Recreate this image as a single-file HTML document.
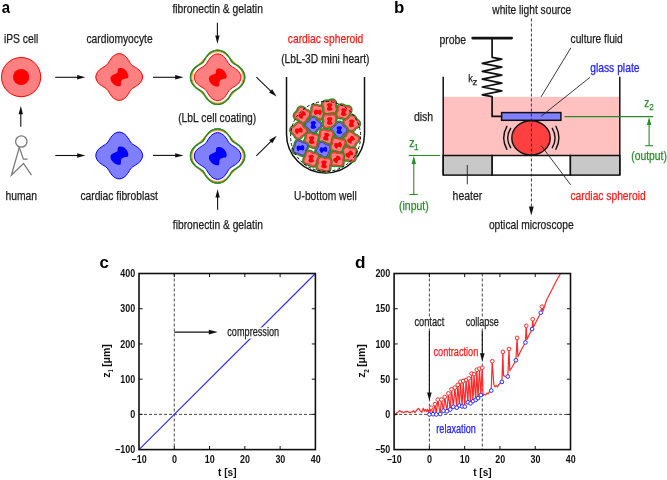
<!DOCTYPE html>
<html><head><meta charset="utf-8"><style>
html,body{margin:0;padding:0;background:#fff;}
svg{display:block;will-change:transform;}
text{font-family:"Liberation Sans",sans-serif;}
</style></head><body>
<svg width="667" height="480" viewBox="0 0 667 480">
<rect width="667" height="480" fill="#fff"/>
<text x="1.8" y="12.6" font-size="16.0" font-weight="bold" fill="#000" textLength="8.3" lengthAdjust="spacingAndGlyphs">a</text>
<text x="3.9" y="42.8" font-size="12.2" fill="#1c1c1c" stroke="#1c1c1c" stroke-width="0.25" textLength="34.4" lengthAdjust="spacingAndGlyphs">iPS cell</text>
<text x="86.4" y="42.9" font-size="12.2" fill="#1c1c1c" stroke="#1c1c1c" stroke-width="0.25" textLength="66.3" lengthAdjust="spacingAndGlyphs">cardiomyocyte</text>
<text x="172.4" y="13.3" font-size="12.2" fill="#1c1c1c" stroke="#1c1c1c" stroke-width="0.25" textLength="90.5" lengthAdjust="spacingAndGlyphs">fibronectin &amp; gelatin</text>
<text x="287.8" y="42.6" font-size="12.2" fill="#ff1a1a" stroke="#ff1a1a" stroke-width="0.25" textLength="75.5" lengthAdjust="spacingAndGlyphs">cardiac spheroid</text>
<text x="281.2" y="62.8" font-size="12.2" fill="#1c1c1c" stroke="#1c1c1c" stroke-width="0.25" textLength="88.3" lengthAdjust="spacingAndGlyphs">(LbL-3D mini heart)</text>
<text x="178.2" y="122.1" font-size="12.2" fill="#1c1c1c" stroke="#1c1c1c" stroke-width="0.25" textLength="78.1" lengthAdjust="spacingAndGlyphs">(LbL cell coating)</text>
<text x="5.5" y="199.7" font-size="12.2" fill="#1c1c1c" stroke="#1c1c1c" stroke-width="0.25" textLength="31.6" lengthAdjust="spacingAndGlyphs">human</text>
<text x="80.4" y="200.0" font-size="12.2" fill="#1c1c1c" stroke="#1c1c1c" stroke-width="0.25" textLength="77.5" lengthAdjust="spacingAndGlyphs">cardiac fibroblast</text>
<text x="172.8" y="229.0" font-size="12.2" fill="#1c1c1c" stroke="#1c1c1c" stroke-width="0.25" textLength="90.1" lengthAdjust="spacingAndGlyphs">fibronectin &amp; gelatin</text>
<text x="294.1" y="199.5" font-size="12.2" fill="#1c1c1c" stroke="#1c1c1c" stroke-width="0.25" textLength="62.6" lengthAdjust="spacingAndGlyphs">U-bottom well</text>
<circle cx="21.1" cy="77.1" r="19.6" fill="#ff8080" stroke="#ff0000" stroke-width="1"/>
<circle cx="21.1" cy="77.0" r="8.1" fill="#ff0000"/>
<line x1="55.20" y1="77.30" x2="78.10" y2="77.30" stroke="#111" stroke-width="1.1"/>
<polygon points="85.40,77.30 77.10,79.50 77.10,75.10" fill="#111"/>
<line x1="55.20" y1="155.50" x2="78.10" y2="155.50" stroke="#111" stroke-width="1.1"/>
<polygon points="85.40,155.50 77.10,157.70 77.10,153.30" fill="#111"/>
<line x1="153.00" y1="77.30" x2="176.20" y2="77.30" stroke="#111" stroke-width="1.1"/>
<polygon points="183.50,77.30 175.20,79.50 175.20,75.10" fill="#111"/>
<line x1="153.00" y1="155.40" x2="176.20" y2="155.40" stroke="#111" stroke-width="1.1"/>
<polygon points="183.50,155.40 175.20,157.60 175.20,153.20" fill="#111"/>
<line x1="217.40" y1="22.80" x2="217.40" y2="36.50" stroke="#111" stroke-width="1.1"/>
<polygon points="217.40,43.80 215.20,35.50 219.60,35.50" fill="#111"/>
<line x1="217.60" y1="209.70" x2="217.60" y2="196.50" stroke="#111" stroke-width="1.1"/>
<polygon points="217.60,189.20 219.80,197.50 215.40,197.50" fill="#111"/>
<line x1="20.80" y1="126.70" x2="20.80" y2="113.30" stroke="#111" stroke-width="1.1"/>
<polygon points="20.80,106.00 23.00,114.30 18.60,114.30" fill="#111"/>
<line x1="256.40" y1="77.20" x2="271.33" y2="91.54" stroke="#111" stroke-width="1.1"/>
<polygon points="276.60,96.60 269.09,92.44 272.14,89.26" fill="#111"/>
<line x1="256.30" y1="155.80" x2="271.49" y2="140.91" stroke="#111" stroke-width="1.1"/>
<polygon points="276.70,135.80 272.31,143.18 269.23,140.04" fill="#111"/>
<circle cx="21.3" cy="141.5" r="5.7" fill="none" stroke="#7a7a7a" stroke-width="1.3"/>
<polyline points="19.3,147.4 11.4,175.2 23.5,163.5 31.5,175.2" fill="none" stroke="#7a7a7a" stroke-width="1.3" stroke-linejoin="miter"/>
<polyline points="19.3,147.4 23.4,159.2 27.6,159.2" fill="none" stroke="#7a7a7a" stroke-width="1.3"/>
<path d="M119.2,53.6 C119.9,53.6 120.6,53.7 121.2,53.9 C121.9,54.1 122.5,54.4 123.1,54.7 C123.7,55.0 124.3,55.4 124.9,55.9 C125.4,56.3 125.9,56.8 126.4,57.3 C126.8,57.9 127.2,58.4 127.6,59.0 C128.0,59.5 128.3,60.1 128.7,60.6 C129.0,61.1 129.3,61.7 129.6,62.1 C129.9,62.6 130.2,63.1 130.5,63.5 C130.8,63.9 131.2,64.3 131.5,64.7 C131.9,65.0 132.3,65.4 132.7,65.7 C133.1,66.0 133.6,66.3 134.1,66.6 C134.5,66.9 135.1,67.2 135.6,67.5 C136.1,67.9 136.7,68.2 137.2,68.6 C137.8,69.0 138.3,69.4 138.9,69.8 C139.4,70.3 139.9,70.8 140.3,71.3 C140.8,71.9 141.2,72.5 141.5,73.1 C141.8,73.7 142.1,74.3 142.3,75.0 C142.5,75.6 142.6,76.3 142.6,77.0 C142.6,77.7 142.5,78.4 142.3,79.0 C142.1,79.7 141.8,80.3 141.5,80.9 C141.2,81.5 140.8,82.1 140.3,82.7 C139.9,83.2 139.4,83.7 138.9,84.2 C138.3,84.6 137.8,85.0 137.2,85.4 C136.7,85.8 136.1,86.1 135.6,86.5 C135.1,86.8 134.5,87.1 134.1,87.4 C133.6,87.7 133.1,88.0 132.7,88.3 C132.3,88.6 131.9,89.0 131.5,89.3 C131.2,89.7 130.8,90.1 130.5,90.5 C130.2,90.9 129.9,91.4 129.6,91.9 C129.3,92.3 129.0,92.9 128.7,93.4 C128.3,93.9 128.0,94.5 127.6,95.0 C127.2,95.6 126.8,96.1 126.4,96.7 C125.9,97.2 125.4,97.7 124.9,98.1 C124.3,98.6 123.7,99.0 123.1,99.3 C122.5,99.6 121.9,99.9 121.2,100.1 C120.6,100.3 119.9,100.4 119.2,100.4 C118.5,100.4 117.8,100.3 117.2,100.1 C116.5,99.9 115.9,99.6 115.3,99.3 C114.7,99.0 114.1,98.6 113.5,98.1 C113.0,97.7 112.5,97.2 112.0,96.7 C111.6,96.1 111.2,95.6 110.8,95.0 C110.4,94.5 110.1,93.9 109.7,93.4 C109.4,92.9 109.1,92.3 108.8,91.9 C108.5,91.4 108.2,90.9 107.9,90.5 C107.6,90.1 107.2,89.7 106.9,89.3 C106.5,89.0 106.1,88.6 105.7,88.3 C105.3,88.0 104.8,87.7 104.3,87.4 C103.9,87.1 103.3,86.8 102.8,86.5 C102.3,86.1 101.7,85.8 101.2,85.4 C100.6,85.0 100.1,84.6 99.5,84.2 C99.0,83.7 98.5,83.2 98.1,82.7 C97.6,82.1 97.2,81.5 96.9,80.9 C96.6,80.3 96.3,79.7 96.1,79.0 C95.9,78.4 95.8,77.7 95.8,77.0 C95.8,76.3 95.9,75.6 96.1,75.0 C96.3,74.3 96.6,73.7 96.9,73.1 C97.2,72.5 97.6,71.9 98.1,71.3 C98.5,70.8 99.0,70.3 99.5,69.8 C100.1,69.4 100.6,69.0 101.2,68.6 C101.7,68.2 102.3,67.9 102.8,67.5 C103.3,67.2 103.9,66.9 104.3,66.6 C104.8,66.3 105.3,66.0 105.7,65.7 C106.1,65.4 106.5,65.0 106.9,64.7 C107.2,64.3 107.6,63.9 107.9,63.5 C108.2,63.1 108.5,62.6 108.8,62.1 C109.1,61.7 109.4,61.1 109.7,60.6 C110.1,60.1 110.4,59.5 110.8,59.0 C111.2,58.4 111.6,57.9 112.0,57.3 C112.5,56.8 113.0,56.3 113.5,55.9 C114.1,55.4 114.7,55.0 115.3,54.7 C115.9,54.4 116.5,54.1 117.2,53.9 C117.8,53.7 118.5,53.6 119.2,53.6Z" fill="#ff8080" stroke="#ff0000" stroke-width="1.0"/>
<path d="M118.0,69.1 C118.4,68.7 119.1,68.1 120.2,68.1 C121.2,68.1 122.9,68.4 124.1,69.1 C125.3,69.9 126.5,71.4 127.2,72.6 C127.9,73.7 128.3,75.0 128.3,75.9 C128.4,76.9 128.1,77.7 127.5,78.2 C126.8,78.6 125.6,78.4 124.7,78.7 C123.7,79.0 122.5,79.3 121.9,79.9 C121.3,80.4 121.2,81.2 121.0,82.1 C120.8,83.0 121.1,84.7 120.7,85.4 C120.4,86.2 120.0,86.4 119.0,86.3 C118.0,86.2 115.8,85.6 114.6,84.9 C113.4,84.2 112.4,83.2 111.7,82.1 C111.0,81.0 110.5,79.2 110.5,78.2 C110.5,77.1 111.0,76.3 111.7,75.7 C112.4,75.0 113.7,74.6 114.6,74.2 C115.5,73.8 116.6,73.6 117.1,73.1 C117.6,72.5 117.5,71.5 117.7,70.9 C117.8,70.2 117.5,69.6 118.0,69.1Z" fill="#ff0000"/>
<path d="M119.2,132.1 C119.9,132.1 120.6,132.2 121.2,132.4 C121.9,132.6 122.5,132.9 123.1,133.2 C123.7,133.5 124.3,133.9 124.9,134.4 C125.4,134.8 125.9,135.3 126.4,135.8 C126.8,136.4 127.2,136.9 127.6,137.5 C128.0,138.0 128.3,138.6 128.7,139.1 C129.0,139.6 129.3,140.2 129.6,140.6 C129.9,141.1 130.2,141.6 130.5,142.0 C130.8,142.4 131.2,142.8 131.5,143.2 C131.9,143.5 132.3,143.9 132.7,144.2 C133.1,144.5 133.6,144.8 134.1,145.1 C134.5,145.4 135.1,145.7 135.6,146.0 C136.1,146.4 136.7,146.7 137.2,147.1 C137.8,147.5 138.3,147.9 138.9,148.3 C139.4,148.8 139.9,149.3 140.3,149.8 C140.8,150.4 141.2,151.0 141.5,151.6 C141.8,152.2 142.1,152.8 142.3,153.5 C142.5,154.1 142.6,154.8 142.6,155.5 C142.6,156.2 142.5,156.9 142.3,157.5 C142.1,158.2 141.8,158.8 141.5,159.4 C141.2,160.0 140.8,160.6 140.3,161.2 C139.9,161.7 139.4,162.2 138.9,162.7 C138.3,163.1 137.8,163.5 137.2,163.9 C136.7,164.3 136.1,164.6 135.6,165.0 C135.1,165.3 134.5,165.6 134.1,165.9 C133.6,166.2 133.1,166.5 132.7,166.8 C132.3,167.1 131.9,167.5 131.5,167.8 C131.2,168.2 130.8,168.6 130.5,169.0 C130.2,169.4 129.9,169.9 129.6,170.4 C129.3,170.8 129.0,171.4 128.7,171.9 C128.3,172.4 128.0,173.0 127.6,173.5 C127.2,174.1 126.8,174.6 126.4,175.2 C125.9,175.7 125.4,176.2 124.9,176.6 C124.3,177.1 123.7,177.5 123.1,177.8 C122.5,178.1 121.9,178.4 121.2,178.6 C120.6,178.8 119.9,178.9 119.2,178.9 C118.5,178.9 117.8,178.8 117.2,178.6 C116.5,178.4 115.9,178.1 115.3,177.8 C114.7,177.5 114.1,177.1 113.5,176.6 C113.0,176.2 112.5,175.7 112.0,175.2 C111.6,174.6 111.2,174.1 110.8,173.5 C110.4,173.0 110.1,172.4 109.7,171.9 C109.4,171.4 109.1,170.8 108.8,170.4 C108.5,169.9 108.2,169.4 107.9,169.0 C107.6,168.6 107.2,168.2 106.9,167.8 C106.5,167.5 106.1,167.1 105.7,166.8 C105.3,166.5 104.8,166.2 104.3,165.9 C103.9,165.6 103.3,165.3 102.8,165.0 C102.3,164.6 101.7,164.3 101.2,163.9 C100.6,163.5 100.1,163.1 99.5,162.7 C99.0,162.2 98.5,161.7 98.1,161.2 C97.6,160.6 97.2,160.0 96.9,159.4 C96.6,158.8 96.3,158.2 96.1,157.5 C95.9,156.9 95.8,156.2 95.8,155.5 C95.8,154.8 95.9,154.1 96.1,153.5 C96.3,152.8 96.6,152.2 96.9,151.6 C97.2,151.0 97.6,150.4 98.1,149.8 C98.5,149.3 99.0,148.8 99.5,148.3 C100.1,147.9 100.6,147.5 101.2,147.1 C101.7,146.7 102.3,146.4 102.8,146.0 C103.3,145.7 103.9,145.4 104.3,145.1 C104.8,144.8 105.3,144.5 105.7,144.2 C106.1,143.9 106.5,143.5 106.9,143.2 C107.2,142.8 107.6,142.4 107.9,142.0 C108.2,141.6 108.5,141.1 108.8,140.6 C109.1,140.2 109.4,139.6 109.7,139.1 C110.1,138.6 110.4,138.0 110.8,137.5 C111.2,136.9 111.6,136.4 112.0,135.8 C112.5,135.3 113.0,134.8 113.5,134.4 C114.1,133.9 114.7,133.5 115.3,133.2 C115.9,132.9 116.5,132.6 117.2,132.4 C117.8,132.2 118.5,132.1 119.2,132.1Z" fill="#8080ff" stroke="#0000ff" stroke-width="1.0"/>
<path d="M118.0,147.6 C118.4,147.2 119.1,146.6 120.2,146.6 C121.2,146.6 122.9,146.9 124.1,147.6 C125.3,148.4 126.5,149.9 127.2,151.1 C127.9,152.2 128.3,153.5 128.3,154.4 C128.4,155.4 128.1,156.2 127.5,156.7 C126.8,157.1 125.6,156.9 124.7,157.2 C123.7,157.5 122.5,157.8 121.9,158.4 C121.3,158.9 121.2,159.7 121.0,160.6 C120.8,161.5 121.1,163.2 120.7,163.9 C120.4,164.7 120.0,164.9 119.0,164.8 C118.0,164.7 115.8,164.1 114.6,163.4 C113.4,162.7 112.4,161.7 111.7,160.6 C111.0,159.5 110.5,157.7 110.5,156.7 C110.5,155.6 111.0,154.8 111.7,154.2 C112.4,153.5 113.7,153.1 114.6,152.7 C115.5,152.3 116.6,152.1 117.1,151.6 C117.6,151.0 117.5,150.0 117.7,149.4 C117.8,148.7 117.5,148.1 118.0,147.6Z" fill="#0000ff"/>
<path d="M217.6,50.2 C218.6,50.2 219.6,50.4 220.6,50.6 C221.5,50.9 222.4,51.3 223.3,51.7 C224.1,52.2 224.9,52.7 225.6,53.3 C226.3,53.9 227.0,54.6 227.5,55.2 C228.1,55.8 228.6,56.5 229.0,57.1 C229.5,57.8 229.8,58.4 230.2,58.9 C230.5,59.5 230.8,60.0 231.1,60.4 C231.4,60.9 231.6,61.2 231.9,61.6 C232.1,61.9 232.3,62.1 232.5,62.4 C232.8,62.6 233.0,62.8 233.3,63.0 C233.7,63.3 234.0,63.5 234.5,63.8 C234.9,64.1 235.4,64.4 236.0,64.7 C236.5,65.1 237.1,65.4 237.8,65.9 C238.4,66.3 239.1,66.8 239.7,67.4 C240.3,67.9 241.0,68.6 241.6,69.3 C242.2,70.0 242.7,70.8 243.2,71.6 C243.6,72.5 244.0,73.4 244.3,74.3 C244.5,75.3 244.7,76.3 244.7,77.3 C244.7,78.3 244.5,79.3 244.3,80.3 C244.0,81.2 243.6,82.1 243.2,83.0 C242.7,83.8 242.2,84.6 241.6,85.3 C241.0,86.0 240.3,86.7 239.7,87.2 C239.1,87.8 238.4,88.3 237.8,88.7 C237.1,89.2 236.5,89.5 236.0,89.9 C235.4,90.2 234.9,90.5 234.5,90.8 C234.0,91.1 233.7,91.3 233.3,91.6 C233.0,91.8 232.8,92.0 232.5,92.2 C232.3,92.5 232.1,92.7 231.9,93.0 C231.6,93.4 231.4,93.7 231.1,94.2 C230.8,94.6 230.5,95.1 230.2,95.7 C229.8,96.2 229.5,96.8 229.0,97.5 C228.6,98.1 228.1,98.8 227.5,99.4 C227.0,100.0 226.3,100.7 225.6,101.3 C224.9,101.9 224.1,102.4 223.3,102.9 C222.4,103.3 221.5,103.7 220.6,104.0 C219.6,104.2 218.6,104.4 217.6,104.4 C216.6,104.4 215.6,104.2 214.6,104.0 C213.7,103.7 212.8,103.3 211.9,102.9 C211.1,102.4 210.3,101.9 209.6,101.3 C208.9,100.7 208.2,100.0 207.7,99.4 C207.1,98.8 206.6,98.1 206.2,97.5 C205.7,96.8 205.4,96.2 205.0,95.7 C204.7,95.1 204.4,94.6 204.1,94.2 C203.8,93.7 203.6,93.4 203.3,93.0 C203.1,92.7 202.9,92.5 202.7,92.2 C202.4,92.0 202.2,91.8 201.9,91.6 C201.5,91.3 201.2,91.1 200.7,90.8 C200.3,90.5 199.8,90.2 199.2,89.9 C198.7,89.5 198.1,89.2 197.4,88.7 C196.8,88.3 196.1,87.8 195.5,87.2 C194.9,86.7 194.2,86.0 193.6,85.3 C193.0,84.6 192.5,83.8 192.0,83.0 C191.6,82.1 191.2,81.2 190.9,80.3 C190.7,79.3 190.5,78.3 190.5,77.3 C190.5,76.3 190.7,75.3 190.9,74.3 C191.2,73.4 191.6,72.5 192.0,71.6 C192.5,70.8 193.0,70.0 193.6,69.3 C194.2,68.6 194.9,67.9 195.5,67.4 C196.1,66.8 196.8,66.3 197.4,65.9 C198.1,65.4 198.7,65.1 199.2,64.7 C199.8,64.4 200.3,64.1 200.7,63.8 C201.2,63.5 201.5,63.3 201.9,63.0 C202.2,62.8 202.4,62.6 202.7,62.4 C202.9,62.1 203.1,61.9 203.3,61.6 C203.6,61.2 203.8,60.9 204.1,60.4 C204.4,60.0 204.7,59.5 205.0,58.9 C205.4,58.4 205.7,57.8 206.2,57.1 C206.6,56.5 207.1,55.8 207.7,55.2 C208.2,54.6 208.9,53.9 209.6,53.3 C210.3,52.7 211.1,52.2 211.9,51.7 C212.8,51.3 213.7,50.9 214.6,50.6 C215.6,50.4 216.6,50.2 217.6,50.2Z" fill="#fff" stroke="#2a8a2a" stroke-width="1.4"/>
<path d="M217.6,51.6 C218.5,51.6 219.3,51.7 220.2,51.9 C221.0,52.1 221.8,52.3 222.6,52.6 C223.4,52.9 224.1,53.3 224.8,53.7 C225.5,54.1 226.2,54.6 226.8,55.1 C227.4,55.5 227.9,56.0 228.4,56.5 C229.0,57.0 229.4,57.5 229.9,58.0 C230.3,58.4 230.7,58.9 231.1,59.3 C231.5,59.7 231.8,60.1 232.2,60.5 C232.6,60.9 232.9,61.3 233.3,61.6 C233.6,62.0 234.0,62.3 234.4,62.7 C234.8,63.1 235.2,63.4 235.6,63.8 C236.0,64.2 236.5,64.6 236.9,65.0 C237.4,65.5 237.9,65.9 238.4,66.5 C238.9,67.0 239.4,67.5 239.8,68.1 C240.3,68.7 240.8,69.4 241.2,70.1 C241.6,70.8 242.0,71.5 242.3,72.3 C242.6,73.1 242.8,73.9 243.0,74.7 C243.2,75.6 243.3,76.4 243.3,77.3 C243.3,78.2 243.2,79.0 243.0,79.9 C242.8,80.7 242.6,81.5 242.3,82.3 C242.0,83.1 241.6,83.8 241.2,84.5 C240.8,85.2 240.3,85.9 239.8,86.5 C239.4,87.1 238.9,87.6 238.4,88.1 C237.9,88.7 237.4,89.1 236.9,89.6 C236.5,90.0 236.0,90.4 235.6,90.8 C235.2,91.2 234.8,91.5 234.4,91.9 C234.0,92.3 233.6,92.6 233.3,93.0 C232.9,93.3 232.6,93.7 232.2,94.1 C231.8,94.5 231.5,94.9 231.1,95.3 C230.7,95.7 230.3,96.2 229.9,96.6 C229.4,97.1 229.0,97.6 228.4,98.1 C227.9,98.6 227.4,99.1 226.8,99.5 C226.2,100.0 225.5,100.5 224.8,100.9 C224.1,101.3 223.4,101.7 222.6,102.0 C221.8,102.3 221.0,102.5 220.2,102.7 C219.3,102.9 218.5,103.0 217.6,103.0 C216.7,103.0 215.9,102.9 215.0,102.7 C214.2,102.5 213.4,102.3 212.6,102.0 C211.8,101.7 211.1,101.3 210.4,100.9 C209.7,100.5 209.0,100.0 208.4,99.5 C207.8,99.1 207.3,98.6 206.8,98.1 C206.2,97.6 205.8,97.1 205.3,96.6 C204.9,96.2 204.5,95.7 204.1,95.3 C203.7,94.9 203.4,94.5 203.0,94.1 C202.6,93.7 202.3,93.3 201.9,93.0 C201.6,92.6 201.2,92.3 200.8,91.9 C200.4,91.5 200.0,91.2 199.6,90.8 C199.2,90.4 198.7,90.0 198.3,89.6 C197.8,89.1 197.3,88.7 196.8,88.1 C196.3,87.6 195.8,87.1 195.4,86.5 C194.9,85.9 194.4,85.2 194.0,84.5 C193.6,83.8 193.2,83.1 192.9,82.3 C192.6,81.5 192.4,80.7 192.2,79.9 C192.0,79.0 191.9,78.2 191.9,77.3 C191.9,76.4 192.0,75.6 192.2,74.7 C192.4,73.9 192.6,73.1 192.9,72.3 C193.2,71.5 193.6,70.8 194.0,70.1 C194.4,69.4 194.9,68.7 195.4,68.1 C195.8,67.5 196.3,67.0 196.8,66.5 C197.3,65.9 197.8,65.5 198.3,65.0 C198.7,64.6 199.2,64.2 199.6,63.8 C200.0,63.4 200.4,63.1 200.8,62.7 C201.2,62.3 201.6,62.0 201.9,61.6 C202.3,61.3 202.6,60.9 203.0,60.5 C203.4,60.1 203.7,59.7 204.1,59.3 C204.5,58.9 204.9,58.4 205.3,58.0 C205.8,57.5 206.2,57.0 206.8,56.5 C207.3,56.0 207.8,55.5 208.4,55.1 C209.0,54.6 209.7,54.1 210.4,53.7 C211.1,53.3 211.8,52.9 212.6,52.6 C213.4,52.3 214.2,52.1 215.0,51.9 C215.9,51.7 216.7,51.6 217.6,51.6Z" fill="none" stroke="#ff9020" stroke-width="1.1"/>
<path d="M217.6,50.2 C218.6,50.2 219.6,50.4 220.6,50.6 C221.5,50.9 222.4,51.3 223.3,51.7 C224.1,52.2 224.9,52.7 225.6,53.3 C226.3,53.9 227.0,54.6 227.5,55.2 C228.1,55.8 228.6,56.5 229.0,57.1 C229.5,57.8 229.8,58.4 230.2,58.9 C230.5,59.5 230.8,60.0 231.1,60.4 C231.4,60.9 231.6,61.2 231.9,61.6 C232.1,61.9 232.3,62.1 232.5,62.4 C232.8,62.6 233.0,62.8 233.3,63.0 C233.7,63.3 234.0,63.5 234.5,63.8 C234.9,64.1 235.4,64.4 236.0,64.7 C236.5,65.1 237.1,65.4 237.8,65.9 C238.4,66.3 239.1,66.8 239.7,67.4 C240.3,67.9 241.0,68.6 241.6,69.3 C242.2,70.0 242.7,70.8 243.2,71.6 C243.6,72.5 244.0,73.4 244.3,74.3 C244.5,75.3 244.7,76.3 244.7,77.3 C244.7,78.3 244.5,79.3 244.3,80.3 C244.0,81.2 243.6,82.1 243.2,83.0 C242.7,83.8 242.2,84.6 241.6,85.3 C241.0,86.0 240.3,86.7 239.7,87.2 C239.1,87.8 238.4,88.3 237.8,88.7 C237.1,89.2 236.5,89.5 236.0,89.9 C235.4,90.2 234.9,90.5 234.5,90.8 C234.0,91.1 233.7,91.3 233.3,91.6 C233.0,91.8 232.8,92.0 232.5,92.2 C232.3,92.5 232.1,92.7 231.9,93.0 C231.6,93.4 231.4,93.7 231.1,94.2 C230.8,94.6 230.5,95.1 230.2,95.7 C229.8,96.2 229.5,96.8 229.0,97.5 C228.6,98.1 228.1,98.8 227.5,99.4 C227.0,100.0 226.3,100.7 225.6,101.3 C224.9,101.9 224.1,102.4 223.3,102.9 C222.4,103.3 221.5,103.7 220.6,104.0 C219.6,104.2 218.6,104.4 217.6,104.4 C216.6,104.4 215.6,104.2 214.6,104.0 C213.7,103.7 212.8,103.3 211.9,102.9 C211.1,102.4 210.3,101.9 209.6,101.3 C208.9,100.7 208.2,100.0 207.7,99.4 C207.1,98.8 206.6,98.1 206.2,97.5 C205.7,96.8 205.4,96.2 205.0,95.7 C204.7,95.1 204.4,94.6 204.1,94.2 C203.8,93.7 203.6,93.4 203.3,93.0 C203.1,92.7 202.9,92.5 202.7,92.2 C202.4,92.0 202.2,91.8 201.9,91.6 C201.5,91.3 201.2,91.1 200.7,90.8 C200.3,90.5 199.8,90.2 199.2,89.9 C198.7,89.5 198.1,89.2 197.4,88.7 C196.8,88.3 196.1,87.8 195.5,87.2 C194.9,86.7 194.2,86.0 193.6,85.3 C193.0,84.6 192.5,83.8 192.0,83.0 C191.6,82.1 191.2,81.2 190.9,80.3 C190.7,79.3 190.5,78.3 190.5,77.3 C190.5,76.3 190.7,75.3 190.9,74.3 C191.2,73.4 191.6,72.5 192.0,71.6 C192.5,70.8 193.0,70.0 193.6,69.3 C194.2,68.6 194.9,67.9 195.5,67.4 C196.1,66.8 196.8,66.3 197.4,65.9 C198.1,65.4 198.7,65.1 199.2,64.7 C199.8,64.4 200.3,64.1 200.7,63.8 C201.2,63.5 201.5,63.3 201.9,63.0 C202.2,62.8 202.4,62.6 202.7,62.4 C202.9,62.1 203.1,61.9 203.3,61.6 C203.6,61.2 203.8,60.9 204.1,60.4 C204.4,60.0 204.7,59.5 205.0,58.9 C205.4,58.4 205.7,57.8 206.2,57.1 C206.6,56.5 207.1,55.8 207.7,55.2 C208.2,54.6 208.9,53.9 209.6,53.3 C210.3,52.7 211.1,52.2 211.9,51.7 C212.8,51.3 213.7,50.9 214.6,50.6 C215.6,50.4 216.6,50.2 217.6,50.2Z" fill="none" stroke="#2a8a2a" stroke-width="1.4" stroke-dasharray="0"/>
<path d="M217.6,53.9 C218.3,53.9 219.0,54.0 219.6,54.2 C220.3,54.4 220.9,54.7 221.5,55.0 C222.1,55.3 222.7,55.7 223.3,56.2 C223.8,56.6 224.3,57.1 224.8,57.6 C225.2,58.2 225.6,58.7 226.0,59.3 C226.4,59.8 226.7,60.4 227.1,60.9 C227.4,61.4 227.7,62.0 228.0,62.4 C228.3,62.9 228.6,63.4 228.9,63.8 C229.2,64.2 229.6,64.6 229.9,65.0 C230.3,65.3 230.7,65.7 231.1,66.0 C231.5,66.3 232.0,66.6 232.5,66.9 C232.9,67.2 233.5,67.5 234.0,67.8 C234.5,68.2 235.1,68.5 235.6,68.9 C236.2,69.3 236.7,69.7 237.3,70.1 C237.8,70.6 238.3,71.1 238.7,71.6 C239.2,72.2 239.6,72.8 239.9,73.4 C240.2,74.0 240.5,74.6 240.7,75.3 C240.9,75.9 241.0,76.6 241.0,77.3 C241.0,78.0 240.9,78.7 240.7,79.3 C240.5,80.0 240.2,80.6 239.9,81.2 C239.6,81.8 239.2,82.4 238.7,83.0 C238.3,83.5 237.8,84.0 237.3,84.5 C236.7,84.9 236.2,85.3 235.6,85.7 C235.1,86.1 234.5,86.4 234.0,86.8 C233.5,87.1 232.9,87.4 232.5,87.7 C232.0,88.0 231.5,88.3 231.1,88.6 C230.7,88.9 230.3,89.3 229.9,89.6 C229.6,90.0 229.2,90.4 228.9,90.8 C228.6,91.2 228.3,91.7 228.0,92.2 C227.7,92.6 227.4,93.2 227.1,93.7 C226.7,94.2 226.4,94.8 226.0,95.3 C225.6,95.9 225.2,96.4 224.8,97.0 C224.3,97.5 223.8,98.0 223.3,98.4 C222.7,98.9 222.1,99.3 221.5,99.6 C220.9,99.9 220.3,100.2 219.6,100.4 C219.0,100.6 218.3,100.7 217.6,100.7 C216.9,100.7 216.2,100.6 215.6,100.4 C214.9,100.2 214.3,99.9 213.7,99.6 C213.1,99.3 212.5,98.9 211.9,98.4 C211.4,98.0 210.9,97.5 210.4,97.0 C210.0,96.4 209.6,95.9 209.2,95.3 C208.8,94.8 208.5,94.2 208.1,93.7 C207.8,93.2 207.5,92.6 207.2,92.2 C206.9,91.7 206.6,91.2 206.3,90.8 C206.0,90.4 205.6,90.0 205.3,89.6 C204.9,89.3 204.5,88.9 204.1,88.6 C203.7,88.3 203.2,88.0 202.7,87.7 C202.3,87.4 201.7,87.1 201.2,86.8 C200.7,86.4 200.1,86.1 199.6,85.7 C199.0,85.3 198.5,84.9 197.9,84.5 C197.4,84.0 196.9,83.5 196.5,83.0 C196.0,82.4 195.6,81.8 195.3,81.2 C195.0,80.6 194.7,80.0 194.5,79.3 C194.3,78.7 194.2,78.0 194.2,77.3 C194.2,76.6 194.3,75.9 194.5,75.3 C194.7,74.6 195.0,74.0 195.3,73.4 C195.6,72.8 196.0,72.2 196.5,71.6 C196.9,71.1 197.4,70.6 197.9,70.1 C198.5,69.7 199.0,69.3 199.6,68.9 C200.1,68.5 200.7,68.2 201.2,67.8 C201.7,67.5 202.3,67.2 202.7,66.9 C203.2,66.6 203.7,66.3 204.1,66.0 C204.5,65.7 204.9,65.3 205.3,65.0 C205.6,64.6 206.0,64.2 206.3,63.8 C206.6,63.4 206.9,62.9 207.2,62.4 C207.5,62.0 207.8,61.4 208.1,60.9 C208.5,60.4 208.8,59.8 209.2,59.3 C209.6,58.7 210.0,58.2 210.4,57.6 C210.9,57.1 211.4,56.6 211.9,56.2 C212.5,55.7 213.1,55.3 213.7,55.0 C214.3,54.7 214.9,54.4 215.6,54.2 C216.2,54.0 216.9,53.9 217.6,53.9Z" fill="#ff8080" stroke="#ff0000" stroke-width="1.0"/>
<path d="M216.4,69.4 C216.8,69.0 217.5,68.4 218.6,68.4 C219.6,68.4 221.3,68.7 222.5,69.4 C223.7,70.2 224.9,71.7 225.6,72.9 C226.3,74.0 226.7,75.3 226.7,76.2 C226.8,77.2 226.5,78.0 225.9,78.5 C225.2,78.9 224.0,78.7 223.1,79.0 C222.1,79.3 220.9,79.6 220.3,80.2 C219.7,80.7 219.6,81.5 219.4,82.4 C219.2,83.3 219.5,85.0 219.1,85.7 C218.8,86.5 218.4,86.7 217.4,86.6 C216.4,86.5 214.2,85.9 213.0,85.2 C211.8,84.5 210.8,83.5 210.1,82.4 C209.4,81.3 208.9,79.5 208.9,78.5 C208.9,77.4 209.4,76.6 210.1,76.0 C210.8,75.3 212.1,74.9 213.0,74.5 C213.9,74.1 215.0,73.9 215.5,73.4 C216.0,72.8 215.9,71.8 216.1,71.2 C216.2,70.5 215.9,69.9 216.4,69.4Z" fill="#ff0000"/>
<path d="M217.6,128.9 C218.6,128.9 219.6,129.1 220.6,129.3 C221.5,129.6 222.4,130.0 223.3,130.4 C224.1,130.9 224.9,131.4 225.6,132.0 C226.3,132.6 227.0,133.3 227.5,133.9 C228.1,134.5 228.6,135.2 229.0,135.8 C229.5,136.5 229.8,137.1 230.2,137.6 C230.5,138.2 230.8,138.7 231.1,139.1 C231.4,139.6 231.6,139.9 231.9,140.3 C232.1,140.6 232.3,140.8 232.5,141.1 C232.8,141.3 233.0,141.5 233.3,141.7 C233.7,142.0 234.0,142.2 234.5,142.5 C234.9,142.8 235.4,143.1 236.0,143.4 C236.5,143.8 237.1,144.1 237.8,144.6 C238.4,145.0 239.1,145.5 239.7,146.1 C240.3,146.6 241.0,147.3 241.6,148.0 C242.2,148.7 242.7,149.5 243.2,150.3 C243.6,151.2 244.0,152.1 244.3,153.0 C244.5,154.0 244.7,155.0 244.7,156.0 C244.7,157.0 244.5,158.0 244.3,159.0 C244.0,159.9 243.6,160.8 243.2,161.7 C242.7,162.5 242.2,163.3 241.6,164.0 C241.0,164.7 240.3,165.4 239.7,165.9 C239.1,166.5 238.4,167.0 237.8,167.4 C237.1,167.9 236.5,168.2 236.0,168.6 C235.4,168.9 234.9,169.2 234.5,169.5 C234.0,169.8 233.7,170.0 233.3,170.3 C233.0,170.5 232.8,170.7 232.5,170.9 C232.3,171.2 232.1,171.4 231.9,171.7 C231.6,172.1 231.4,172.4 231.1,172.9 C230.8,173.3 230.5,173.8 230.2,174.4 C229.8,174.9 229.5,175.5 229.0,176.2 C228.6,176.8 228.1,177.5 227.5,178.1 C227.0,178.7 226.3,179.4 225.6,180.0 C224.9,180.6 224.1,181.1 223.3,181.6 C222.4,182.0 221.5,182.4 220.6,182.7 C219.6,182.9 218.6,183.1 217.6,183.1 C216.6,183.1 215.6,182.9 214.6,182.7 C213.7,182.4 212.8,182.0 211.9,181.6 C211.1,181.1 210.3,180.6 209.6,180.0 C208.9,179.4 208.2,178.7 207.7,178.1 C207.1,177.5 206.6,176.8 206.2,176.2 C205.7,175.5 205.4,174.9 205.0,174.4 C204.7,173.8 204.4,173.3 204.1,172.9 C203.8,172.4 203.6,172.1 203.3,171.7 C203.1,171.4 202.9,171.2 202.7,170.9 C202.4,170.7 202.2,170.5 201.9,170.3 C201.5,170.0 201.2,169.8 200.7,169.5 C200.3,169.2 199.8,168.9 199.2,168.6 C198.7,168.2 198.1,167.9 197.4,167.4 C196.8,167.0 196.1,166.5 195.5,165.9 C194.9,165.4 194.2,164.7 193.6,164.0 C193.0,163.3 192.5,162.5 192.0,161.7 C191.6,160.8 191.2,159.9 190.9,159.0 C190.7,158.0 190.5,157.0 190.5,156.0 C190.5,155.0 190.7,154.0 190.9,153.0 C191.2,152.1 191.6,151.2 192.0,150.3 C192.5,149.5 193.0,148.7 193.6,148.0 C194.2,147.3 194.9,146.6 195.5,146.1 C196.1,145.5 196.8,145.0 197.4,144.6 C198.1,144.1 198.7,143.8 199.2,143.4 C199.8,143.1 200.3,142.8 200.7,142.5 C201.2,142.2 201.5,142.0 201.9,141.7 C202.2,141.5 202.4,141.3 202.7,141.1 C202.9,140.8 203.1,140.6 203.3,140.3 C203.6,139.9 203.8,139.6 204.1,139.1 C204.4,138.7 204.7,138.2 205.0,137.6 C205.4,137.1 205.7,136.5 206.2,135.8 C206.6,135.2 207.1,134.5 207.7,133.9 C208.2,133.3 208.9,132.6 209.6,132.0 C210.3,131.4 211.1,130.9 211.9,130.4 C212.8,130.0 213.7,129.6 214.6,129.3 C215.6,129.1 216.6,128.9 217.6,128.9Z" fill="#fff" stroke="#2a8a2a" stroke-width="1.4"/>
<path d="M217.6,130.3 C218.5,130.3 219.3,130.4 220.2,130.6 C221.0,130.8 221.8,131.0 222.6,131.3 C223.4,131.6 224.1,132.0 224.8,132.4 C225.5,132.8 226.2,133.3 226.8,133.8 C227.4,134.2 227.9,134.7 228.4,135.2 C229.0,135.7 229.4,136.2 229.9,136.7 C230.3,137.1 230.7,137.6 231.1,138.0 C231.5,138.4 231.8,138.8 232.2,139.2 C232.6,139.6 232.9,140.0 233.3,140.3 C233.6,140.7 234.0,141.0 234.4,141.4 C234.8,141.8 235.2,142.1 235.6,142.5 C236.0,142.9 236.5,143.3 236.9,143.7 C237.4,144.2 237.9,144.6 238.4,145.2 C238.9,145.7 239.4,146.2 239.8,146.8 C240.3,147.4 240.8,148.1 241.2,148.8 C241.6,149.5 242.0,150.2 242.3,151.0 C242.6,151.8 242.8,152.6 243.0,153.4 C243.2,154.3 243.3,155.1 243.3,156.0 C243.3,156.9 243.2,157.7 243.0,158.6 C242.8,159.4 242.6,160.2 242.3,161.0 C242.0,161.8 241.6,162.5 241.2,163.2 C240.8,163.9 240.3,164.6 239.8,165.2 C239.4,165.8 238.9,166.3 238.4,166.8 C237.9,167.4 237.4,167.8 236.9,168.3 C236.5,168.7 236.0,169.1 235.6,169.5 C235.2,169.9 234.8,170.2 234.4,170.6 C234.0,171.0 233.6,171.3 233.3,171.7 C232.9,172.0 232.6,172.4 232.2,172.8 C231.8,173.2 231.5,173.6 231.1,174.0 C230.7,174.4 230.3,174.9 229.9,175.3 C229.4,175.8 229.0,176.3 228.4,176.8 C227.9,177.3 227.4,177.8 226.8,178.2 C226.2,178.7 225.5,179.2 224.8,179.6 C224.1,180.0 223.4,180.4 222.6,180.7 C221.8,181.0 221.0,181.2 220.2,181.4 C219.3,181.6 218.5,181.7 217.6,181.7 C216.7,181.7 215.9,181.6 215.0,181.4 C214.2,181.2 213.4,181.0 212.6,180.7 C211.8,180.4 211.1,180.0 210.4,179.6 C209.7,179.2 209.0,178.7 208.4,178.2 C207.8,177.8 207.3,177.3 206.8,176.8 C206.2,176.3 205.8,175.8 205.3,175.3 C204.9,174.9 204.5,174.4 204.1,174.0 C203.7,173.6 203.4,173.2 203.0,172.8 C202.6,172.4 202.3,172.0 201.9,171.7 C201.6,171.3 201.2,171.0 200.8,170.6 C200.4,170.2 200.0,169.9 199.6,169.5 C199.2,169.1 198.7,168.7 198.3,168.3 C197.8,167.8 197.3,167.4 196.8,166.8 C196.3,166.3 195.8,165.8 195.4,165.2 C194.9,164.6 194.4,163.9 194.0,163.2 C193.6,162.5 193.2,161.8 192.9,161.0 C192.6,160.2 192.4,159.4 192.2,158.6 C192.0,157.7 191.9,156.9 191.9,156.0 C191.9,155.1 192.0,154.3 192.2,153.4 C192.4,152.6 192.6,151.8 192.9,151.0 C193.2,150.2 193.6,149.5 194.0,148.8 C194.4,148.1 194.9,147.4 195.4,146.8 C195.8,146.2 196.3,145.7 196.8,145.2 C197.3,144.6 197.8,144.2 198.3,143.7 C198.7,143.3 199.2,142.9 199.6,142.5 C200.0,142.1 200.4,141.8 200.8,141.4 C201.2,141.0 201.6,140.7 201.9,140.3 C202.3,140.0 202.6,139.6 203.0,139.2 C203.4,138.8 203.7,138.4 204.1,138.0 C204.5,137.6 204.9,137.1 205.3,136.7 C205.8,136.2 206.2,135.7 206.8,135.2 C207.3,134.7 207.8,134.2 208.4,133.8 C209.0,133.3 209.7,132.8 210.4,132.4 C211.1,132.0 211.8,131.6 212.6,131.3 C213.4,131.0 214.2,130.8 215.0,130.6 C215.9,130.4 216.7,130.3 217.6,130.3Z" fill="none" stroke="#ff9020" stroke-width="1.1"/>
<path d="M217.6,128.9 C218.6,128.9 219.6,129.1 220.6,129.3 C221.5,129.6 222.4,130.0 223.3,130.4 C224.1,130.9 224.9,131.4 225.6,132.0 C226.3,132.6 227.0,133.3 227.5,133.9 C228.1,134.5 228.6,135.2 229.0,135.8 C229.5,136.5 229.8,137.1 230.2,137.6 C230.5,138.2 230.8,138.7 231.1,139.1 C231.4,139.6 231.6,139.9 231.9,140.3 C232.1,140.6 232.3,140.8 232.5,141.1 C232.8,141.3 233.0,141.5 233.3,141.7 C233.7,142.0 234.0,142.2 234.5,142.5 C234.9,142.8 235.4,143.1 236.0,143.4 C236.5,143.8 237.1,144.1 237.8,144.6 C238.4,145.0 239.1,145.5 239.7,146.1 C240.3,146.6 241.0,147.3 241.6,148.0 C242.2,148.7 242.7,149.5 243.2,150.3 C243.6,151.2 244.0,152.1 244.3,153.0 C244.5,154.0 244.7,155.0 244.7,156.0 C244.7,157.0 244.5,158.0 244.3,159.0 C244.0,159.9 243.6,160.8 243.2,161.7 C242.7,162.5 242.2,163.3 241.6,164.0 C241.0,164.7 240.3,165.4 239.7,165.9 C239.1,166.5 238.4,167.0 237.8,167.4 C237.1,167.9 236.5,168.2 236.0,168.6 C235.4,168.9 234.9,169.2 234.5,169.5 C234.0,169.8 233.7,170.0 233.3,170.3 C233.0,170.5 232.8,170.7 232.5,170.9 C232.3,171.2 232.1,171.4 231.9,171.7 C231.6,172.1 231.4,172.4 231.1,172.9 C230.8,173.3 230.5,173.8 230.2,174.4 C229.8,174.9 229.5,175.5 229.0,176.2 C228.6,176.8 228.1,177.5 227.5,178.1 C227.0,178.7 226.3,179.4 225.6,180.0 C224.9,180.6 224.1,181.1 223.3,181.6 C222.4,182.0 221.5,182.4 220.6,182.7 C219.6,182.9 218.6,183.1 217.6,183.1 C216.6,183.1 215.6,182.9 214.6,182.7 C213.7,182.4 212.8,182.0 211.9,181.6 C211.1,181.1 210.3,180.6 209.6,180.0 C208.9,179.4 208.2,178.7 207.7,178.1 C207.1,177.5 206.6,176.8 206.2,176.2 C205.7,175.5 205.4,174.9 205.0,174.4 C204.7,173.8 204.4,173.3 204.1,172.9 C203.8,172.4 203.6,172.1 203.3,171.7 C203.1,171.4 202.9,171.2 202.7,170.9 C202.4,170.7 202.2,170.5 201.9,170.3 C201.5,170.0 201.2,169.8 200.7,169.5 C200.3,169.2 199.8,168.9 199.2,168.6 C198.7,168.2 198.1,167.9 197.4,167.4 C196.8,167.0 196.1,166.5 195.5,165.9 C194.9,165.4 194.2,164.7 193.6,164.0 C193.0,163.3 192.5,162.5 192.0,161.7 C191.6,160.8 191.2,159.9 190.9,159.0 C190.7,158.0 190.5,157.0 190.5,156.0 C190.5,155.0 190.7,154.0 190.9,153.0 C191.2,152.1 191.6,151.2 192.0,150.3 C192.5,149.5 193.0,148.7 193.6,148.0 C194.2,147.3 194.9,146.6 195.5,146.1 C196.1,145.5 196.8,145.0 197.4,144.6 C198.1,144.1 198.7,143.8 199.2,143.4 C199.8,143.1 200.3,142.8 200.7,142.5 C201.2,142.2 201.5,142.0 201.9,141.7 C202.2,141.5 202.4,141.3 202.7,141.1 C202.9,140.8 203.1,140.6 203.3,140.3 C203.6,139.9 203.8,139.6 204.1,139.1 C204.4,138.7 204.7,138.2 205.0,137.6 C205.4,137.1 205.7,136.5 206.2,135.8 C206.6,135.2 207.1,134.5 207.7,133.9 C208.2,133.3 208.9,132.6 209.6,132.0 C210.3,131.4 211.1,130.9 211.9,130.4 C212.8,130.0 213.7,129.6 214.6,129.3 C215.6,129.1 216.6,128.9 217.6,128.9Z" fill="none" stroke="#2a8a2a" stroke-width="1.4" stroke-dasharray="0"/>
<path d="M217.6,132.6 C218.3,132.6 219.0,132.7 219.6,132.9 C220.3,133.1 220.9,133.4 221.5,133.7 C222.1,134.0 222.7,134.4 223.3,134.9 C223.8,135.3 224.3,135.8 224.8,136.3 C225.2,136.9 225.6,137.4 226.0,138.0 C226.4,138.5 226.7,139.1 227.1,139.6 C227.4,140.1 227.7,140.7 228.0,141.1 C228.3,141.6 228.6,142.1 228.9,142.5 C229.2,142.9 229.6,143.3 229.9,143.7 C230.3,144.0 230.7,144.4 231.1,144.7 C231.5,145.0 232.0,145.3 232.5,145.6 C232.9,145.9 233.5,146.2 234.0,146.5 C234.5,146.9 235.1,147.2 235.6,147.6 C236.2,148.0 236.7,148.4 237.3,148.8 C237.8,149.3 238.3,149.8 238.7,150.3 C239.2,150.9 239.6,151.5 239.9,152.1 C240.2,152.7 240.5,153.3 240.7,154.0 C240.9,154.6 241.0,155.3 241.0,156.0 C241.0,156.7 240.9,157.4 240.7,158.0 C240.5,158.7 240.2,159.3 239.9,159.9 C239.6,160.5 239.2,161.1 238.7,161.7 C238.3,162.2 237.8,162.7 237.3,163.2 C236.7,163.6 236.2,164.0 235.6,164.4 C235.1,164.8 234.5,165.1 234.0,165.5 C233.5,165.8 232.9,166.1 232.5,166.4 C232.0,166.7 231.5,167.0 231.1,167.3 C230.7,167.6 230.3,168.0 229.9,168.3 C229.6,168.7 229.2,169.1 228.9,169.5 C228.6,169.9 228.3,170.4 228.0,170.9 C227.7,171.3 227.4,171.9 227.1,172.4 C226.7,172.9 226.4,173.5 226.0,174.0 C225.6,174.6 225.2,175.1 224.8,175.7 C224.3,176.2 223.8,176.7 223.3,177.1 C222.7,177.6 222.1,178.0 221.5,178.3 C220.9,178.6 220.3,178.9 219.6,179.1 C219.0,179.3 218.3,179.4 217.6,179.4 C216.9,179.4 216.2,179.3 215.6,179.1 C214.9,178.9 214.3,178.6 213.7,178.3 C213.1,178.0 212.5,177.6 211.9,177.1 C211.4,176.7 210.9,176.2 210.4,175.7 C210.0,175.1 209.6,174.6 209.2,174.0 C208.8,173.5 208.5,172.9 208.1,172.4 C207.8,171.9 207.5,171.3 207.2,170.9 C206.9,170.4 206.6,169.9 206.3,169.5 C206.0,169.1 205.6,168.7 205.3,168.3 C204.9,168.0 204.5,167.6 204.1,167.3 C203.7,167.0 203.2,166.7 202.7,166.4 C202.3,166.1 201.7,165.8 201.2,165.5 C200.7,165.1 200.1,164.8 199.6,164.4 C199.0,164.0 198.5,163.6 197.9,163.2 C197.4,162.7 196.9,162.2 196.5,161.7 C196.0,161.1 195.6,160.5 195.3,159.9 C195.0,159.3 194.7,158.7 194.5,158.0 C194.3,157.4 194.2,156.7 194.2,156.0 C194.2,155.3 194.3,154.6 194.5,154.0 C194.7,153.3 195.0,152.7 195.3,152.1 C195.6,151.5 196.0,150.9 196.5,150.3 C196.9,149.8 197.4,149.3 197.9,148.8 C198.5,148.4 199.0,148.0 199.6,147.6 C200.1,147.2 200.7,146.9 201.2,146.5 C201.7,146.2 202.3,145.9 202.7,145.6 C203.2,145.3 203.7,145.0 204.1,144.7 C204.5,144.4 204.9,144.0 205.3,143.7 C205.6,143.3 206.0,142.9 206.3,142.5 C206.6,142.1 206.9,141.6 207.2,141.1 C207.5,140.7 207.8,140.1 208.1,139.6 C208.5,139.1 208.8,138.5 209.2,138.0 C209.6,137.4 210.0,136.9 210.4,136.3 C210.9,135.8 211.4,135.3 211.9,134.9 C212.5,134.4 213.1,134.0 213.7,133.7 C214.3,133.4 214.9,133.1 215.6,132.9 C216.2,132.7 216.9,132.6 217.6,132.6Z" fill="#8080ff" stroke="#0000ff" stroke-width="1.0"/>
<path d="M216.4,148.1 C216.8,147.7 217.5,147.1 218.6,147.1 C219.6,147.1 221.3,147.4 222.5,148.1 C223.7,148.9 224.9,150.4 225.6,151.6 C226.3,152.7 226.7,154.0 226.7,154.9 C226.8,155.9 226.5,156.7 225.9,157.2 C225.2,157.6 224.0,157.4 223.1,157.7 C222.1,158.0 220.9,158.3 220.3,158.9 C219.7,159.4 219.6,160.2 219.4,161.1 C219.2,162.0 219.5,163.7 219.1,164.4 C218.8,165.2 218.4,165.4 217.4,165.3 C216.4,165.2 214.2,164.6 213.0,163.9 C211.8,163.2 210.8,162.2 210.1,161.1 C209.4,160.0 208.9,158.2 208.9,157.2 C208.9,156.1 209.4,155.3 210.1,154.7 C210.8,154.0 212.1,153.6 213.0,153.2 C213.9,152.8 215.0,152.6 215.5,152.1 C216.0,151.5 215.9,150.5 216.1,149.9 C216.2,149.2 215.9,148.6 216.4,148.1Z" fill="#0000ff"/>
<path d="M286.5,77 L286.5,134 A39,39 0 0 0 364.5,134 L364.5,77" fill="none" stroke="#111" stroke-width="1.5"/>
<g transform="translate(302.1,114.9) rotate(-10)"><path d="M0.0,-8.9 C0.7,-8.9 1.5,-8.7 2.1,-8.3 C2.7,-8.0 3.2,-7.4 3.6,-7.0 C4.0,-6.6 4.2,-6.1 4.4,-5.7 C4.6,-5.4 4.7,-5.2 5.0,-5.0 C5.2,-4.7 5.4,-4.6 5.7,-4.4 C6.1,-4.2 6.6,-4.0 7.0,-3.6 C7.4,-3.2 8.0,-2.7 8.3,-2.1 C8.7,-1.5 8.9,-0.7 8.9,-0.0 C8.9,0.7 8.7,1.5 8.3,2.1 C8.0,2.7 7.4,3.2 7.0,3.6 C6.6,4.0 6.1,4.2 5.7,4.4 C5.4,4.6 5.2,4.7 5.0,5.0 C4.7,5.2 4.6,5.4 4.4,5.7 C4.2,6.1 4.0,6.6 3.6,7.0 C3.2,7.4 2.7,8.0 2.1,8.3 C1.5,8.7 0.7,8.9 0.0,8.9 C-0.7,8.9 -1.5,8.7 -2.1,8.3 C-2.7,8.0 -3.2,7.4 -3.6,7.0 C-4.0,6.6 -4.2,6.1 -4.4,5.7 C-4.6,5.4 -4.7,5.2 -5.0,5.0 C-5.2,4.7 -5.4,4.6 -5.7,4.4 C-6.1,4.2 -6.6,4.0 -7.0,3.6 C-7.4,3.2 -8.0,2.7 -8.3,2.1 C-8.7,1.5 -8.9,0.7 -8.9,0.0 C-8.9,-0.7 -8.7,-1.5 -8.3,-2.1 C-8.0,-2.7 -7.4,-3.2 -7.0,-3.6 C-6.6,-4.0 -6.1,-4.2 -5.7,-4.4 C-5.4,-4.6 -5.2,-4.7 -5.0,-5.0 C-4.7,-5.2 -4.6,-5.4 -4.4,-5.7 C-4.2,-6.1 -4.0,-6.6 -3.6,-7.0 C-3.2,-7.4 -2.7,-8.0 -2.1,-8.3 C-1.5,-8.7 -0.7,-8.9 0.0,-8.9Z" fill="#f07040" stroke="#2a8a2a" stroke-width="1.35"/><path d="M0.0,-7.6 C0.5,-7.6 1.0,-7.4 1.4,-7.2 C1.8,-6.9 2.2,-6.5 2.5,-6.1 C2.9,-5.8 3.1,-5.3 3.3,-4.9 C3.6,-4.6 3.7,-4.3 4.0,-4.0 C4.3,-3.7 4.6,-3.6 4.9,-3.3 C5.3,-3.1 5.8,-2.9 6.1,-2.5 C6.5,-2.2 6.9,-1.8 7.2,-1.4 C7.4,-1.0 7.6,-0.5 7.6,-0.0 C7.6,0.5 7.4,1.0 7.2,1.4 C6.9,1.8 6.5,2.2 6.1,2.5 C5.8,2.9 5.3,3.1 4.9,3.3 C4.6,3.6 4.3,3.7 4.0,4.0 C3.7,4.3 3.6,4.6 3.3,4.9 C3.1,5.3 2.9,5.8 2.5,6.1 C2.2,6.5 1.8,6.9 1.4,7.2 C1.0,7.4 0.5,7.6 0.0,7.6 C-0.5,7.6 -1.0,7.4 -1.4,7.2 C-1.8,6.9 -2.2,6.5 -2.5,6.1 C-2.9,5.8 -3.1,5.3 -3.3,4.9 C-3.6,4.6 -3.7,4.3 -4.0,4.0 C-4.3,3.7 -4.6,3.6 -4.9,3.3 C-5.3,3.1 -5.8,2.9 -6.1,2.5 C-6.5,2.2 -6.9,1.8 -7.2,1.4 C-7.4,1.0 -7.6,0.5 -7.6,0.0 C-7.6,-0.5 -7.4,-1.0 -7.2,-1.4 C-6.9,-1.8 -6.5,-2.2 -6.1,-2.5 C-5.8,-2.9 -5.3,-3.1 -4.9,-3.3 C-4.6,-3.6 -4.3,-3.7 -4.0,-4.0 C-3.7,-4.3 -3.6,-4.6 -3.3,-4.9 C-3.1,-5.3 -2.9,-5.8 -2.5,-6.1 C-2.2,-6.5 -1.8,-6.9 -1.4,-7.2 C-1.0,-7.4 -0.5,-7.6 0.0,-7.6Z" fill="#ff8080" stroke="#ff0000" stroke-width="0.6"/></g>
<g transform="translate(302.1,114.9) rotate(0)"><path d="M-0.5,-3.3 C-0.4,-3.5 -0.0,-3.8 0.4,-3.8 C0.8,-3.8 1.6,-3.6 2.1,-3.3 C2.6,-3.0 3.1,-2.3 3.4,-1.9 C3.7,-1.4 3.8,-0.8 3.9,-0.4 C3.9,-0.1 3.7,0.3 3.5,0.5 C3.2,0.7 2.7,0.6 2.3,0.7 C1.9,0.9 1.4,1.0 1.1,1.2 C0.9,1.5 0.9,1.8 0.8,2.1 C0.7,2.5 0.8,3.3 0.6,3.6 C0.5,3.9 0.4,4.0 -0.1,3.9 C-0.5,3.9 -1.4,3.6 -1.9,3.3 C-2.5,3.0 -2.9,2.6 -3.2,2.1 C-3.5,1.7 -3.7,0.9 -3.7,0.5 C-3.7,0.0 -3.5,-0.3 -3.2,-0.6 C-2.9,-0.8 -2.3,-1.0 -1.9,-1.2 C-1.6,-1.4 -1.1,-1.4 -0.9,-1.7 C-0.7,-1.9 -0.7,-2.3 -0.6,-2.6 C-0.6,-2.9 -0.7,-3.1 -0.5,-3.3Z" fill="#ff0000"/></g>
<g transform="translate(317.8,112.1) rotate(55)"><path d="M0.0,-8.9 C0.7,-8.9 1.5,-8.7 2.1,-8.3 C2.7,-8.0 3.2,-7.4 3.6,-7.0 C4.0,-6.6 4.2,-6.1 4.4,-5.7 C4.6,-5.4 4.7,-5.2 5.0,-5.0 C5.2,-4.7 5.4,-4.6 5.7,-4.4 C6.1,-4.2 6.6,-4.0 7.0,-3.6 C7.4,-3.2 8.0,-2.7 8.3,-2.1 C8.7,-1.5 8.9,-0.7 8.9,-0.0 C8.9,0.7 8.7,1.5 8.3,2.1 C8.0,2.7 7.4,3.2 7.0,3.6 C6.6,4.0 6.1,4.2 5.7,4.4 C5.4,4.6 5.2,4.7 5.0,5.0 C4.7,5.2 4.6,5.4 4.4,5.7 C4.2,6.1 4.0,6.6 3.6,7.0 C3.2,7.4 2.7,8.0 2.1,8.3 C1.5,8.7 0.7,8.9 0.0,8.9 C-0.7,8.9 -1.5,8.7 -2.1,8.3 C-2.7,8.0 -3.2,7.4 -3.6,7.0 C-4.0,6.6 -4.2,6.1 -4.4,5.7 C-4.6,5.4 -4.7,5.2 -5.0,5.0 C-5.2,4.7 -5.4,4.6 -5.7,4.4 C-6.1,4.2 -6.6,4.0 -7.0,3.6 C-7.4,3.2 -8.0,2.7 -8.3,2.1 C-8.7,1.5 -8.9,0.7 -8.9,0.0 C-8.9,-0.7 -8.7,-1.5 -8.3,-2.1 C-8.0,-2.7 -7.4,-3.2 -7.0,-3.6 C-6.6,-4.0 -6.1,-4.2 -5.7,-4.4 C-5.4,-4.6 -5.2,-4.7 -5.0,-5.0 C-4.7,-5.2 -4.6,-5.4 -4.4,-5.7 C-4.2,-6.1 -4.0,-6.6 -3.6,-7.0 C-3.2,-7.4 -2.7,-8.0 -2.1,-8.3 C-1.5,-8.7 -0.7,-8.9 0.0,-8.9Z" fill="#f07040" stroke="#2a8a2a" stroke-width="1.35"/><path d="M0.0,-7.6 C0.5,-7.6 1.0,-7.4 1.4,-7.2 C1.8,-6.9 2.2,-6.5 2.5,-6.1 C2.9,-5.8 3.1,-5.3 3.3,-4.9 C3.6,-4.6 3.7,-4.3 4.0,-4.0 C4.3,-3.7 4.6,-3.6 4.9,-3.3 C5.3,-3.1 5.8,-2.9 6.1,-2.5 C6.5,-2.2 6.9,-1.8 7.2,-1.4 C7.4,-1.0 7.6,-0.5 7.6,-0.0 C7.6,0.5 7.4,1.0 7.2,1.4 C6.9,1.8 6.5,2.2 6.1,2.5 C5.8,2.9 5.3,3.1 4.9,3.3 C4.6,3.6 4.3,3.7 4.0,4.0 C3.7,4.3 3.6,4.6 3.3,4.9 C3.1,5.3 2.9,5.8 2.5,6.1 C2.2,6.5 1.8,6.9 1.4,7.2 C1.0,7.4 0.5,7.6 0.0,7.6 C-0.5,7.6 -1.0,7.4 -1.4,7.2 C-1.8,6.9 -2.2,6.5 -2.5,6.1 C-2.9,5.8 -3.1,5.3 -3.3,4.9 C-3.6,4.6 -3.7,4.3 -4.0,4.0 C-4.3,3.7 -4.6,3.6 -4.9,3.3 C-5.3,3.1 -5.8,2.9 -6.1,2.5 C-6.5,2.2 -6.9,1.8 -7.2,1.4 C-7.4,1.0 -7.6,0.5 -7.6,0.0 C-7.6,-0.5 -7.4,-1.0 -7.2,-1.4 C-6.9,-1.8 -6.5,-2.2 -6.1,-2.5 C-5.8,-2.9 -5.3,-3.1 -4.9,-3.3 C-4.6,-3.6 -4.3,-3.7 -4.0,-4.0 C-3.7,-4.3 -3.6,-4.6 -3.3,-4.9 C-3.1,-5.3 -2.9,-5.8 -2.5,-6.1 C-2.2,-6.5 -1.8,-6.9 -1.4,-7.2 C-1.0,-7.4 -0.5,-7.6 0.0,-7.6Z" fill="#ff8080" stroke="#ff0000" stroke-width="0.6"/></g>
<g transform="translate(317.8,112.1) rotate(45)"><path d="M-0.5,-3.3 C-0.4,-3.5 -0.0,-3.8 0.4,-3.8 C0.8,-3.8 1.6,-3.6 2.1,-3.3 C2.6,-3.0 3.1,-2.3 3.4,-1.9 C3.7,-1.4 3.8,-0.8 3.9,-0.4 C3.9,-0.1 3.7,0.3 3.5,0.5 C3.2,0.7 2.7,0.6 2.3,0.7 C1.9,0.9 1.4,1.0 1.1,1.2 C0.9,1.5 0.9,1.8 0.8,2.1 C0.7,2.5 0.8,3.3 0.6,3.6 C0.5,3.9 0.4,4.0 -0.1,3.9 C-0.5,3.9 -1.4,3.6 -1.9,3.3 C-2.5,3.0 -2.9,2.6 -3.2,2.1 C-3.5,1.7 -3.7,0.9 -3.7,0.5 C-3.7,0.0 -3.5,-0.3 -3.2,-0.6 C-2.9,-0.8 -2.3,-1.0 -1.9,-1.2 C-1.6,-1.4 -1.1,-1.4 -0.9,-1.7 C-0.7,-1.9 -0.7,-2.3 -0.6,-2.6 C-0.6,-2.9 -0.7,-3.1 -0.5,-3.3Z" fill="#ff0000"/></g>
<g transform="translate(329.6,107.0) rotate(35)"><path d="M0.0,-8.9 C0.7,-8.9 1.5,-8.7 2.1,-8.3 C2.7,-8.0 3.2,-7.4 3.6,-7.0 C4.0,-6.6 4.2,-6.1 4.4,-5.7 C4.6,-5.4 4.7,-5.2 5.0,-5.0 C5.2,-4.7 5.4,-4.6 5.7,-4.4 C6.1,-4.2 6.6,-4.0 7.0,-3.6 C7.4,-3.2 8.0,-2.7 8.3,-2.1 C8.7,-1.5 8.9,-0.7 8.9,-0.0 C8.9,0.7 8.7,1.5 8.3,2.1 C8.0,2.7 7.4,3.2 7.0,3.6 C6.6,4.0 6.1,4.2 5.7,4.4 C5.4,4.6 5.2,4.7 5.0,5.0 C4.7,5.2 4.6,5.4 4.4,5.7 C4.2,6.1 4.0,6.6 3.6,7.0 C3.2,7.4 2.7,8.0 2.1,8.3 C1.5,8.7 0.7,8.9 0.0,8.9 C-0.7,8.9 -1.5,8.7 -2.1,8.3 C-2.7,8.0 -3.2,7.4 -3.6,7.0 C-4.0,6.6 -4.2,6.1 -4.4,5.7 C-4.6,5.4 -4.7,5.2 -5.0,5.0 C-5.2,4.7 -5.4,4.6 -5.7,4.4 C-6.1,4.2 -6.6,4.0 -7.0,3.6 C-7.4,3.2 -8.0,2.7 -8.3,2.1 C-8.7,1.5 -8.9,0.7 -8.9,0.0 C-8.9,-0.7 -8.7,-1.5 -8.3,-2.1 C-8.0,-2.7 -7.4,-3.2 -7.0,-3.6 C-6.6,-4.0 -6.1,-4.2 -5.7,-4.4 C-5.4,-4.6 -5.2,-4.7 -5.0,-5.0 C-4.7,-5.2 -4.6,-5.4 -4.4,-5.7 C-4.2,-6.1 -4.0,-6.6 -3.6,-7.0 C-3.2,-7.4 -2.7,-8.0 -2.1,-8.3 C-1.5,-8.7 -0.7,-8.9 0.0,-8.9Z" fill="#f07040" stroke="#2a8a2a" stroke-width="1.35"/><path d="M0.0,-7.6 C0.5,-7.6 1.0,-7.4 1.4,-7.2 C1.8,-6.9 2.2,-6.5 2.5,-6.1 C2.9,-5.8 3.1,-5.3 3.3,-4.9 C3.6,-4.6 3.7,-4.3 4.0,-4.0 C4.3,-3.7 4.6,-3.6 4.9,-3.3 C5.3,-3.1 5.8,-2.9 6.1,-2.5 C6.5,-2.2 6.9,-1.8 7.2,-1.4 C7.4,-1.0 7.6,-0.5 7.6,-0.0 C7.6,0.5 7.4,1.0 7.2,1.4 C6.9,1.8 6.5,2.2 6.1,2.5 C5.8,2.9 5.3,3.1 4.9,3.3 C4.6,3.6 4.3,3.7 4.0,4.0 C3.7,4.3 3.6,4.6 3.3,4.9 C3.1,5.3 2.9,5.8 2.5,6.1 C2.2,6.5 1.8,6.9 1.4,7.2 C1.0,7.4 0.5,7.6 0.0,7.6 C-0.5,7.6 -1.0,7.4 -1.4,7.2 C-1.8,6.9 -2.2,6.5 -2.5,6.1 C-2.9,5.8 -3.1,5.3 -3.3,4.9 C-3.6,4.6 -3.7,4.3 -4.0,4.0 C-4.3,3.7 -4.6,3.6 -4.9,3.3 C-5.3,3.1 -5.8,2.9 -6.1,2.5 C-6.5,2.2 -6.9,1.8 -7.2,1.4 C-7.4,1.0 -7.6,0.5 -7.6,0.0 C-7.6,-0.5 -7.4,-1.0 -7.2,-1.4 C-6.9,-1.8 -6.5,-2.2 -6.1,-2.5 C-5.8,-2.9 -5.3,-3.1 -4.9,-3.3 C-4.6,-3.6 -4.3,-3.7 -4.0,-4.0 C-3.7,-4.3 -3.6,-4.6 -3.3,-4.9 C-3.1,-5.3 -2.9,-5.8 -2.5,-6.1 C-2.2,-6.5 -1.8,-6.9 -1.4,-7.2 C-1.0,-7.4 -0.5,-7.6 0.0,-7.6Z" fill="#ff8080" stroke="#ff0000" stroke-width="0.6"/></g>
<g transform="translate(329.6,107.0) rotate(-45)"><path d="M-0.5,-3.3 C-0.4,-3.5 -0.0,-3.8 0.4,-3.8 C0.8,-3.8 1.6,-3.6 2.1,-3.3 C2.6,-3.0 3.1,-2.3 3.4,-1.9 C3.7,-1.4 3.8,-0.8 3.9,-0.4 C3.9,-0.1 3.7,0.3 3.5,0.5 C3.2,0.7 2.7,0.6 2.3,0.7 C1.9,0.9 1.4,1.0 1.1,1.2 C0.9,1.5 0.9,1.8 0.8,2.1 C0.7,2.5 0.8,3.3 0.6,3.6 C0.5,3.9 0.4,4.0 -0.1,3.9 C-0.5,3.9 -1.4,3.6 -1.9,3.3 C-2.5,3.0 -2.9,2.6 -3.2,2.1 C-3.5,1.7 -3.7,0.9 -3.7,0.5 C-3.7,0.0 -3.5,-0.3 -3.2,-0.6 C-2.9,-0.8 -2.3,-1.0 -1.9,-1.2 C-1.6,-1.4 -1.1,-1.4 -0.9,-1.7 C-0.7,-1.9 -0.7,-2.3 -0.6,-2.6 C-0.6,-2.9 -0.7,-3.1 -0.5,-3.3Z" fill="#ff0000"/></g>
<g transform="translate(343.7,112.1) rotate(60)"><path d="M0.0,-8.9 C0.7,-8.9 1.5,-8.7 2.1,-8.3 C2.7,-8.0 3.2,-7.4 3.6,-7.0 C4.0,-6.6 4.2,-6.1 4.4,-5.7 C4.6,-5.4 4.7,-5.2 5.0,-5.0 C5.2,-4.7 5.4,-4.6 5.7,-4.4 C6.1,-4.2 6.6,-4.0 7.0,-3.6 C7.4,-3.2 8.0,-2.7 8.3,-2.1 C8.7,-1.5 8.9,-0.7 8.9,-0.0 C8.9,0.7 8.7,1.5 8.3,2.1 C8.0,2.7 7.4,3.2 7.0,3.6 C6.6,4.0 6.1,4.2 5.7,4.4 C5.4,4.6 5.2,4.7 5.0,5.0 C4.7,5.2 4.6,5.4 4.4,5.7 C4.2,6.1 4.0,6.6 3.6,7.0 C3.2,7.4 2.7,8.0 2.1,8.3 C1.5,8.7 0.7,8.9 0.0,8.9 C-0.7,8.9 -1.5,8.7 -2.1,8.3 C-2.7,8.0 -3.2,7.4 -3.6,7.0 C-4.0,6.6 -4.2,6.1 -4.4,5.7 C-4.6,5.4 -4.7,5.2 -5.0,5.0 C-5.2,4.7 -5.4,4.6 -5.7,4.4 C-6.1,4.2 -6.6,4.0 -7.0,3.6 C-7.4,3.2 -8.0,2.7 -8.3,2.1 C-8.7,1.5 -8.9,0.7 -8.9,0.0 C-8.9,-0.7 -8.7,-1.5 -8.3,-2.1 C-8.0,-2.7 -7.4,-3.2 -7.0,-3.6 C-6.6,-4.0 -6.1,-4.2 -5.7,-4.4 C-5.4,-4.6 -5.2,-4.7 -5.0,-5.0 C-4.7,-5.2 -4.6,-5.4 -4.4,-5.7 C-4.2,-6.1 -4.0,-6.6 -3.6,-7.0 C-3.2,-7.4 -2.7,-8.0 -2.1,-8.3 C-1.5,-8.7 -0.7,-8.9 0.0,-8.9Z" fill="#f07040" stroke="#2a8a2a" stroke-width="1.35"/><path d="M0.0,-7.6 C0.5,-7.6 1.0,-7.4 1.4,-7.2 C1.8,-6.9 2.2,-6.5 2.5,-6.1 C2.9,-5.8 3.1,-5.3 3.3,-4.9 C3.6,-4.6 3.7,-4.3 4.0,-4.0 C4.3,-3.7 4.6,-3.6 4.9,-3.3 C5.3,-3.1 5.8,-2.9 6.1,-2.5 C6.5,-2.2 6.9,-1.8 7.2,-1.4 C7.4,-1.0 7.6,-0.5 7.6,-0.0 C7.6,0.5 7.4,1.0 7.2,1.4 C6.9,1.8 6.5,2.2 6.1,2.5 C5.8,2.9 5.3,3.1 4.9,3.3 C4.6,3.6 4.3,3.7 4.0,4.0 C3.7,4.3 3.6,4.6 3.3,4.9 C3.1,5.3 2.9,5.8 2.5,6.1 C2.2,6.5 1.8,6.9 1.4,7.2 C1.0,7.4 0.5,7.6 0.0,7.6 C-0.5,7.6 -1.0,7.4 -1.4,7.2 C-1.8,6.9 -2.2,6.5 -2.5,6.1 C-2.9,5.8 -3.1,5.3 -3.3,4.9 C-3.6,4.6 -3.7,4.3 -4.0,4.0 C-4.3,3.7 -4.6,3.6 -4.9,3.3 C-5.3,3.1 -5.8,2.9 -6.1,2.5 C-6.5,2.2 -6.9,1.8 -7.2,1.4 C-7.4,1.0 -7.6,0.5 -7.6,0.0 C-7.6,-0.5 -7.4,-1.0 -7.2,-1.4 C-6.9,-1.8 -6.5,-2.2 -6.1,-2.5 C-5.8,-2.9 -5.3,-3.1 -4.9,-3.3 C-4.6,-3.6 -4.3,-3.7 -4.0,-4.0 C-3.7,-4.3 -3.6,-4.6 -3.3,-4.9 C-3.1,-5.3 -2.9,-5.8 -2.5,-6.1 C-2.2,-6.5 -1.8,-6.9 -1.4,-7.2 C-1.0,-7.4 -0.5,-7.6 0.0,-7.6Z" fill="#ff8080" stroke="#ff0000" stroke-width="0.6"/></g>
<g transform="translate(343.7,112.1) rotate(-40)"><path d="M-0.5,-3.3 C-0.4,-3.5 -0.0,-3.8 0.4,-3.8 C0.8,-3.8 1.6,-3.6 2.1,-3.3 C2.6,-3.0 3.1,-2.3 3.4,-1.9 C3.7,-1.4 3.8,-0.8 3.9,-0.4 C3.9,-0.1 3.7,0.3 3.5,0.5 C3.2,0.7 2.7,0.6 2.3,0.7 C1.9,0.9 1.4,1.0 1.1,1.2 C0.9,1.5 0.9,1.8 0.8,2.1 C0.7,2.5 0.8,3.3 0.6,3.6 C0.5,3.9 0.4,4.0 -0.1,3.9 C-0.5,3.9 -1.4,3.6 -1.9,3.3 C-2.5,3.0 -2.9,2.6 -3.2,2.1 C-3.5,1.7 -3.7,0.9 -3.7,0.5 C-3.7,0.0 -3.5,-0.3 -3.2,-0.6 C-2.9,-0.8 -2.3,-1.0 -1.9,-1.2 C-1.6,-1.4 -1.1,-1.4 -0.9,-1.7 C-0.7,-1.9 -0.7,-2.3 -0.6,-2.6 C-0.6,-2.9 -0.7,-3.1 -0.5,-3.3Z" fill="#ff0000"/></g>
<g transform="translate(313.3,125.0) rotate(0)"><path d="M0.0,-8.9 C0.7,-8.9 1.5,-8.7 2.1,-8.3 C2.7,-8.0 3.2,-7.4 3.6,-7.0 C4.0,-6.6 4.2,-6.1 4.4,-5.7 C4.6,-5.4 4.7,-5.2 5.0,-5.0 C5.2,-4.7 5.4,-4.6 5.7,-4.4 C6.1,-4.2 6.6,-4.0 7.0,-3.6 C7.4,-3.2 8.0,-2.7 8.3,-2.1 C8.7,-1.5 8.9,-0.7 8.9,-0.0 C8.9,0.7 8.7,1.5 8.3,2.1 C8.0,2.7 7.4,3.2 7.0,3.6 C6.6,4.0 6.1,4.2 5.7,4.4 C5.4,4.6 5.2,4.7 5.0,5.0 C4.7,5.2 4.6,5.4 4.4,5.7 C4.2,6.1 4.0,6.6 3.6,7.0 C3.2,7.4 2.7,8.0 2.1,8.3 C1.5,8.7 0.7,8.9 0.0,8.9 C-0.7,8.9 -1.5,8.7 -2.1,8.3 C-2.7,8.0 -3.2,7.4 -3.6,7.0 C-4.0,6.6 -4.2,6.1 -4.4,5.7 C-4.6,5.4 -4.7,5.2 -5.0,5.0 C-5.2,4.7 -5.4,4.6 -5.7,4.4 C-6.1,4.2 -6.6,4.0 -7.0,3.6 C-7.4,3.2 -8.0,2.7 -8.3,2.1 C-8.7,1.5 -8.9,0.7 -8.9,0.0 C-8.9,-0.7 -8.7,-1.5 -8.3,-2.1 C-8.0,-2.7 -7.4,-3.2 -7.0,-3.6 C-6.6,-4.0 -6.1,-4.2 -5.7,-4.4 C-5.4,-4.6 -5.2,-4.7 -5.0,-5.0 C-4.7,-5.2 -4.6,-5.4 -4.4,-5.7 C-4.2,-6.1 -4.0,-6.6 -3.6,-7.0 C-3.2,-7.4 -2.7,-8.0 -2.1,-8.3 C-1.5,-8.7 -0.7,-8.9 0.0,-8.9Z" fill="#f07040" stroke="#2a8a2a" stroke-width="1.35"/><path d="M0.0,-7.6 C0.5,-7.6 1.0,-7.4 1.4,-7.2 C1.8,-6.9 2.2,-6.5 2.5,-6.1 C2.9,-5.8 3.1,-5.3 3.3,-4.9 C3.6,-4.6 3.7,-4.3 4.0,-4.0 C4.3,-3.7 4.6,-3.6 4.9,-3.3 C5.3,-3.1 5.8,-2.9 6.1,-2.5 C6.5,-2.2 6.9,-1.8 7.2,-1.4 C7.4,-1.0 7.6,-0.5 7.6,-0.0 C7.6,0.5 7.4,1.0 7.2,1.4 C6.9,1.8 6.5,2.2 6.1,2.5 C5.8,2.9 5.3,3.1 4.9,3.3 C4.6,3.6 4.3,3.7 4.0,4.0 C3.7,4.3 3.6,4.6 3.3,4.9 C3.1,5.3 2.9,5.8 2.5,6.1 C2.2,6.5 1.8,6.9 1.4,7.2 C1.0,7.4 0.5,7.6 0.0,7.6 C-0.5,7.6 -1.0,7.4 -1.4,7.2 C-1.8,6.9 -2.2,6.5 -2.5,6.1 C-2.9,5.8 -3.1,5.3 -3.3,4.9 C-3.6,4.6 -3.7,4.3 -4.0,4.0 C-4.3,3.7 -4.6,3.6 -4.9,3.3 C-5.3,3.1 -5.8,2.9 -6.1,2.5 C-6.5,2.2 -6.9,1.8 -7.2,1.4 C-7.4,1.0 -7.6,0.5 -7.6,0.0 C-7.6,-0.5 -7.4,-1.0 -7.2,-1.4 C-6.9,-1.8 -6.5,-2.2 -6.1,-2.5 C-5.8,-2.9 -5.3,-3.1 -4.9,-3.3 C-4.6,-3.6 -4.3,-3.7 -4.0,-4.0 C-3.7,-4.3 -3.6,-4.6 -3.3,-4.9 C-3.1,-5.3 -2.9,-5.8 -2.5,-6.1 C-2.2,-6.5 -1.8,-6.9 -1.4,-7.2 C-1.0,-7.4 -0.5,-7.6 0.0,-7.6Z" fill="#8080ff" stroke="#0000ff" stroke-width="0.6"/></g>
<g transform="translate(313.3,125.0) rotate(-45)"><path d="M-0.5,-3.3 C-0.4,-3.5 -0.0,-3.8 0.4,-3.8 C0.8,-3.8 1.6,-3.6 2.1,-3.3 C2.6,-3.0 3.1,-2.3 3.4,-1.9 C3.7,-1.4 3.8,-0.8 3.9,-0.4 C3.9,-0.1 3.7,0.3 3.5,0.5 C3.2,0.7 2.7,0.6 2.3,0.7 C1.9,0.9 1.4,1.0 1.1,1.2 C0.9,1.5 0.9,1.8 0.8,2.1 C0.7,2.5 0.8,3.3 0.6,3.6 C0.5,3.9 0.4,4.0 -0.1,3.9 C-0.5,3.9 -1.4,3.6 -1.9,3.3 C-2.5,3.0 -2.9,2.6 -3.2,2.1 C-3.5,1.7 -3.7,0.9 -3.7,0.5 C-3.7,0.0 -3.5,-0.3 -3.2,-0.6 C-2.9,-0.8 -2.3,-1.0 -1.9,-1.2 C-1.6,-1.4 -1.1,-1.4 -0.9,-1.7 C-0.7,-1.9 -0.7,-2.3 -0.6,-2.6 C-0.6,-2.9 -0.7,-3.1 -0.5,-3.3Z" fill="#0000ff"/></g>
<g transform="translate(329.6,121.1) rotate(45)"><path d="M0.0,-8.9 C0.7,-8.9 1.5,-8.7 2.1,-8.3 C2.7,-8.0 3.2,-7.4 3.6,-7.0 C4.0,-6.6 4.2,-6.1 4.4,-5.7 C4.6,-5.4 4.7,-5.2 5.0,-5.0 C5.2,-4.7 5.4,-4.6 5.7,-4.4 C6.1,-4.2 6.6,-4.0 7.0,-3.6 C7.4,-3.2 8.0,-2.7 8.3,-2.1 C8.7,-1.5 8.9,-0.7 8.9,-0.0 C8.9,0.7 8.7,1.5 8.3,2.1 C8.0,2.7 7.4,3.2 7.0,3.6 C6.6,4.0 6.1,4.2 5.7,4.4 C5.4,4.6 5.2,4.7 5.0,5.0 C4.7,5.2 4.6,5.4 4.4,5.7 C4.2,6.1 4.0,6.6 3.6,7.0 C3.2,7.4 2.7,8.0 2.1,8.3 C1.5,8.7 0.7,8.9 0.0,8.9 C-0.7,8.9 -1.5,8.7 -2.1,8.3 C-2.7,8.0 -3.2,7.4 -3.6,7.0 C-4.0,6.6 -4.2,6.1 -4.4,5.7 C-4.6,5.4 -4.7,5.2 -5.0,5.0 C-5.2,4.7 -5.4,4.6 -5.7,4.4 C-6.1,4.2 -6.6,4.0 -7.0,3.6 C-7.4,3.2 -8.0,2.7 -8.3,2.1 C-8.7,1.5 -8.9,0.7 -8.9,0.0 C-8.9,-0.7 -8.7,-1.5 -8.3,-2.1 C-8.0,-2.7 -7.4,-3.2 -7.0,-3.6 C-6.6,-4.0 -6.1,-4.2 -5.7,-4.4 C-5.4,-4.6 -5.2,-4.7 -5.0,-5.0 C-4.7,-5.2 -4.6,-5.4 -4.4,-5.7 C-4.2,-6.1 -4.0,-6.6 -3.6,-7.0 C-3.2,-7.4 -2.7,-8.0 -2.1,-8.3 C-1.5,-8.7 -0.7,-8.9 0.0,-8.9Z" fill="#f07040" stroke="#2a8a2a" stroke-width="1.35"/><path d="M0.0,-7.6 C0.5,-7.6 1.0,-7.4 1.4,-7.2 C1.8,-6.9 2.2,-6.5 2.5,-6.1 C2.9,-5.8 3.1,-5.3 3.3,-4.9 C3.6,-4.6 3.7,-4.3 4.0,-4.0 C4.3,-3.7 4.6,-3.6 4.9,-3.3 C5.3,-3.1 5.8,-2.9 6.1,-2.5 C6.5,-2.2 6.9,-1.8 7.2,-1.4 C7.4,-1.0 7.6,-0.5 7.6,-0.0 C7.6,0.5 7.4,1.0 7.2,1.4 C6.9,1.8 6.5,2.2 6.1,2.5 C5.8,2.9 5.3,3.1 4.9,3.3 C4.6,3.6 4.3,3.7 4.0,4.0 C3.7,4.3 3.6,4.6 3.3,4.9 C3.1,5.3 2.9,5.8 2.5,6.1 C2.2,6.5 1.8,6.9 1.4,7.2 C1.0,7.4 0.5,7.6 0.0,7.6 C-0.5,7.6 -1.0,7.4 -1.4,7.2 C-1.8,6.9 -2.2,6.5 -2.5,6.1 C-2.9,5.8 -3.1,5.3 -3.3,4.9 C-3.6,4.6 -3.7,4.3 -4.0,4.0 C-4.3,3.7 -4.6,3.6 -4.9,3.3 C-5.3,3.1 -5.8,2.9 -6.1,2.5 C-6.5,2.2 -6.9,1.8 -7.2,1.4 C-7.4,1.0 -7.6,0.5 -7.6,0.0 C-7.6,-0.5 -7.4,-1.0 -7.2,-1.4 C-6.9,-1.8 -6.5,-2.2 -6.1,-2.5 C-5.8,-2.9 -5.3,-3.1 -4.9,-3.3 C-4.6,-3.6 -4.3,-3.7 -4.0,-4.0 C-3.7,-4.3 -3.6,-4.6 -3.3,-4.9 C-3.1,-5.3 -2.9,-5.8 -2.5,-6.1 C-2.2,-6.5 -1.8,-6.9 -1.4,-7.2 C-1.0,-7.4 -0.5,-7.6 0.0,-7.6Z" fill="#ff8080" stroke="#ff0000" stroke-width="0.6"/></g>
<g transform="translate(329.6,121.1) rotate(-45)"><path d="M-0.5,-3.3 C-0.4,-3.5 -0.0,-3.8 0.4,-3.8 C0.8,-3.8 1.6,-3.6 2.1,-3.3 C2.6,-3.0 3.1,-2.3 3.4,-1.9 C3.7,-1.4 3.8,-0.8 3.9,-0.4 C3.9,-0.1 3.7,0.3 3.5,0.5 C3.2,0.7 2.7,0.6 2.3,0.7 C1.9,0.9 1.4,1.0 1.1,1.2 C0.9,1.5 0.9,1.8 0.8,2.1 C0.7,2.5 0.8,3.3 0.6,3.6 C0.5,3.9 0.4,4.0 -0.1,3.9 C-0.5,3.9 -1.4,3.6 -1.9,3.3 C-2.5,3.0 -2.9,2.6 -3.2,2.1 C-3.5,1.7 -3.7,0.9 -3.7,0.5 C-3.7,0.0 -3.5,-0.3 -3.2,-0.6 C-2.9,-0.8 -2.3,-1.0 -1.9,-1.2 C-1.6,-1.4 -1.1,-1.4 -0.9,-1.7 C-0.7,-1.9 -0.7,-2.3 -0.6,-2.6 C-0.6,-2.9 -0.7,-3.1 -0.5,-3.3Z" fill="#ff0000"/></g>
<g transform="translate(351.6,123.3) rotate(5)"><path d="M0.0,-8.9 C0.7,-8.9 1.5,-8.7 2.1,-8.3 C2.7,-8.0 3.2,-7.4 3.6,-7.0 C4.0,-6.6 4.2,-6.1 4.4,-5.7 C4.6,-5.4 4.7,-5.2 5.0,-5.0 C5.2,-4.7 5.4,-4.6 5.7,-4.4 C6.1,-4.2 6.6,-4.0 7.0,-3.6 C7.4,-3.2 8.0,-2.7 8.3,-2.1 C8.7,-1.5 8.9,-0.7 8.9,-0.0 C8.9,0.7 8.7,1.5 8.3,2.1 C8.0,2.7 7.4,3.2 7.0,3.6 C6.6,4.0 6.1,4.2 5.7,4.4 C5.4,4.6 5.2,4.7 5.0,5.0 C4.7,5.2 4.6,5.4 4.4,5.7 C4.2,6.1 4.0,6.6 3.6,7.0 C3.2,7.4 2.7,8.0 2.1,8.3 C1.5,8.7 0.7,8.9 0.0,8.9 C-0.7,8.9 -1.5,8.7 -2.1,8.3 C-2.7,8.0 -3.2,7.4 -3.6,7.0 C-4.0,6.6 -4.2,6.1 -4.4,5.7 C-4.6,5.4 -4.7,5.2 -5.0,5.0 C-5.2,4.7 -5.4,4.6 -5.7,4.4 C-6.1,4.2 -6.6,4.0 -7.0,3.6 C-7.4,3.2 -8.0,2.7 -8.3,2.1 C-8.7,1.5 -8.9,0.7 -8.9,0.0 C-8.9,-0.7 -8.7,-1.5 -8.3,-2.1 C-8.0,-2.7 -7.4,-3.2 -7.0,-3.6 C-6.6,-4.0 -6.1,-4.2 -5.7,-4.4 C-5.4,-4.6 -5.2,-4.7 -5.0,-5.0 C-4.7,-5.2 -4.6,-5.4 -4.4,-5.7 C-4.2,-6.1 -4.0,-6.6 -3.6,-7.0 C-3.2,-7.4 -2.7,-8.0 -2.1,-8.3 C-1.5,-8.7 -0.7,-8.9 0.0,-8.9Z" fill="#f07040" stroke="#2a8a2a" stroke-width="1.35"/><path d="M0.0,-7.6 C0.5,-7.6 1.0,-7.4 1.4,-7.2 C1.8,-6.9 2.2,-6.5 2.5,-6.1 C2.9,-5.8 3.1,-5.3 3.3,-4.9 C3.6,-4.6 3.7,-4.3 4.0,-4.0 C4.3,-3.7 4.6,-3.6 4.9,-3.3 C5.3,-3.1 5.8,-2.9 6.1,-2.5 C6.5,-2.2 6.9,-1.8 7.2,-1.4 C7.4,-1.0 7.6,-0.5 7.6,-0.0 C7.6,0.5 7.4,1.0 7.2,1.4 C6.9,1.8 6.5,2.2 6.1,2.5 C5.8,2.9 5.3,3.1 4.9,3.3 C4.6,3.6 4.3,3.7 4.0,4.0 C3.7,4.3 3.6,4.6 3.3,4.9 C3.1,5.3 2.9,5.8 2.5,6.1 C2.2,6.5 1.8,6.9 1.4,7.2 C1.0,7.4 0.5,7.6 0.0,7.6 C-0.5,7.6 -1.0,7.4 -1.4,7.2 C-1.8,6.9 -2.2,6.5 -2.5,6.1 C-2.9,5.8 -3.1,5.3 -3.3,4.9 C-3.6,4.6 -3.7,4.3 -4.0,4.0 C-4.3,3.7 -4.6,3.6 -4.9,3.3 C-5.3,3.1 -5.8,2.9 -6.1,2.5 C-6.5,2.2 -6.9,1.8 -7.2,1.4 C-7.4,1.0 -7.6,0.5 -7.6,0.0 C-7.6,-0.5 -7.4,-1.0 -7.2,-1.4 C-6.9,-1.8 -6.5,-2.2 -6.1,-2.5 C-5.8,-2.9 -5.3,-3.1 -4.9,-3.3 C-4.6,-3.6 -4.3,-3.7 -4.0,-4.0 C-3.7,-4.3 -3.6,-4.6 -3.3,-4.9 C-3.1,-5.3 -2.9,-5.8 -2.5,-6.1 C-2.2,-6.5 -1.8,-6.9 -1.4,-7.2 C-1.0,-7.4 -0.5,-7.6 0.0,-7.6Z" fill="#ff8080" stroke="#ff0000" stroke-width="0.6"/></g>
<g transform="translate(351.6,123.3) rotate(-40)"><path d="M-0.5,-3.3 C-0.4,-3.5 -0.0,-3.8 0.4,-3.8 C0.8,-3.8 1.6,-3.6 2.1,-3.3 C2.6,-3.0 3.1,-2.3 3.4,-1.9 C3.7,-1.4 3.8,-0.8 3.9,-0.4 C3.9,-0.1 3.7,0.3 3.5,0.5 C3.2,0.7 2.7,0.6 2.3,0.7 C1.9,0.9 1.4,1.0 1.1,1.2 C0.9,1.5 0.9,1.8 0.8,2.1 C0.7,2.5 0.8,3.3 0.6,3.6 C0.5,3.9 0.4,4.0 -0.1,3.9 C-0.5,3.9 -1.4,3.6 -1.9,3.3 C-2.5,3.0 -2.9,2.6 -3.2,2.1 C-3.5,1.7 -3.7,0.9 -3.7,0.5 C-3.7,0.0 -3.5,-0.3 -3.2,-0.6 C-2.9,-0.8 -2.3,-1.0 -1.9,-1.2 C-1.6,-1.4 -1.1,-1.4 -0.9,-1.7 C-0.7,-1.9 -0.7,-2.3 -0.6,-2.6 C-0.6,-2.9 -0.7,-3.1 -0.5,-3.3Z" fill="#ff0000"/></g>
<g transform="translate(298.7,130.6) rotate(5)"><path d="M0.0,-8.9 C0.7,-8.9 1.5,-8.7 2.1,-8.3 C2.7,-8.0 3.2,-7.4 3.6,-7.0 C4.0,-6.6 4.2,-6.1 4.4,-5.7 C4.6,-5.4 4.7,-5.2 5.0,-5.0 C5.2,-4.7 5.4,-4.6 5.7,-4.4 C6.1,-4.2 6.6,-4.0 7.0,-3.6 C7.4,-3.2 8.0,-2.7 8.3,-2.1 C8.7,-1.5 8.9,-0.7 8.9,-0.0 C8.9,0.7 8.7,1.5 8.3,2.1 C8.0,2.7 7.4,3.2 7.0,3.6 C6.6,4.0 6.1,4.2 5.7,4.4 C5.4,4.6 5.2,4.7 5.0,5.0 C4.7,5.2 4.6,5.4 4.4,5.7 C4.2,6.1 4.0,6.6 3.6,7.0 C3.2,7.4 2.7,8.0 2.1,8.3 C1.5,8.7 0.7,8.9 0.0,8.9 C-0.7,8.9 -1.5,8.7 -2.1,8.3 C-2.7,8.0 -3.2,7.4 -3.6,7.0 C-4.0,6.6 -4.2,6.1 -4.4,5.7 C-4.6,5.4 -4.7,5.2 -5.0,5.0 C-5.2,4.7 -5.4,4.6 -5.7,4.4 C-6.1,4.2 -6.6,4.0 -7.0,3.6 C-7.4,3.2 -8.0,2.7 -8.3,2.1 C-8.7,1.5 -8.9,0.7 -8.9,0.0 C-8.9,-0.7 -8.7,-1.5 -8.3,-2.1 C-8.0,-2.7 -7.4,-3.2 -7.0,-3.6 C-6.6,-4.0 -6.1,-4.2 -5.7,-4.4 C-5.4,-4.6 -5.2,-4.7 -5.0,-5.0 C-4.7,-5.2 -4.6,-5.4 -4.4,-5.7 C-4.2,-6.1 -4.0,-6.6 -3.6,-7.0 C-3.2,-7.4 -2.7,-8.0 -2.1,-8.3 C-1.5,-8.7 -0.7,-8.9 0.0,-8.9Z" fill="#f07040" stroke="#2a8a2a" stroke-width="1.35"/><path d="M0.0,-7.6 C0.5,-7.6 1.0,-7.4 1.4,-7.2 C1.8,-6.9 2.2,-6.5 2.5,-6.1 C2.9,-5.8 3.1,-5.3 3.3,-4.9 C3.6,-4.6 3.7,-4.3 4.0,-4.0 C4.3,-3.7 4.6,-3.6 4.9,-3.3 C5.3,-3.1 5.8,-2.9 6.1,-2.5 C6.5,-2.2 6.9,-1.8 7.2,-1.4 C7.4,-1.0 7.6,-0.5 7.6,-0.0 C7.6,0.5 7.4,1.0 7.2,1.4 C6.9,1.8 6.5,2.2 6.1,2.5 C5.8,2.9 5.3,3.1 4.9,3.3 C4.6,3.6 4.3,3.7 4.0,4.0 C3.7,4.3 3.6,4.6 3.3,4.9 C3.1,5.3 2.9,5.8 2.5,6.1 C2.2,6.5 1.8,6.9 1.4,7.2 C1.0,7.4 0.5,7.6 0.0,7.6 C-0.5,7.6 -1.0,7.4 -1.4,7.2 C-1.8,6.9 -2.2,6.5 -2.5,6.1 C-2.9,5.8 -3.1,5.3 -3.3,4.9 C-3.6,4.6 -3.7,4.3 -4.0,4.0 C-4.3,3.7 -4.6,3.6 -4.9,3.3 C-5.3,3.1 -5.8,2.9 -6.1,2.5 C-6.5,2.2 -6.9,1.8 -7.2,1.4 C-7.4,1.0 -7.6,0.5 -7.6,0.0 C-7.6,-0.5 -7.4,-1.0 -7.2,-1.4 C-6.9,-1.8 -6.5,-2.2 -6.1,-2.5 C-5.8,-2.9 -5.3,-3.1 -4.9,-3.3 C-4.6,-3.6 -4.3,-3.7 -4.0,-4.0 C-3.7,-4.3 -3.6,-4.6 -3.3,-4.9 C-3.1,-5.3 -2.9,-5.8 -2.5,-6.1 C-2.2,-6.5 -1.8,-6.9 -1.4,-7.2 C-1.0,-7.4 -0.5,-7.6 0.0,-7.6Z" fill="#ff8080" stroke="#ff0000" stroke-width="0.6"/></g>
<g transform="translate(298.7,130.6) rotate(30)"><path d="M-0.5,-3.3 C-0.4,-3.5 -0.0,-3.8 0.4,-3.8 C0.8,-3.8 1.6,-3.6 2.1,-3.3 C2.6,-3.0 3.1,-2.3 3.4,-1.9 C3.7,-1.4 3.8,-0.8 3.9,-0.4 C3.9,-0.1 3.7,0.3 3.5,0.5 C3.2,0.7 2.7,0.6 2.3,0.7 C1.9,0.9 1.4,1.0 1.1,1.2 C0.9,1.5 0.9,1.8 0.8,2.1 C0.7,2.5 0.8,3.3 0.6,3.6 C0.5,3.9 0.4,4.0 -0.1,3.9 C-0.5,3.9 -1.4,3.6 -1.9,3.3 C-2.5,3.0 -2.9,2.6 -3.2,2.1 C-3.5,1.7 -3.7,0.9 -3.7,0.5 C-3.7,0.0 -3.5,-0.3 -3.2,-0.6 C-2.9,-0.8 -2.3,-1.0 -1.9,-1.2 C-1.6,-1.4 -1.1,-1.4 -0.9,-1.7 C-0.7,-1.9 -0.7,-2.3 -0.6,-2.6 C-0.6,-2.9 -0.7,-3.1 -0.5,-3.3Z" fill="#ff0000"/></g>
<g transform="translate(339.2,130.1) rotate(0)"><path d="M0.0,-8.9 C0.7,-8.9 1.5,-8.7 2.1,-8.3 C2.7,-8.0 3.2,-7.4 3.6,-7.0 C4.0,-6.6 4.2,-6.1 4.4,-5.7 C4.6,-5.4 4.7,-5.2 5.0,-5.0 C5.2,-4.7 5.4,-4.6 5.7,-4.4 C6.1,-4.2 6.6,-4.0 7.0,-3.6 C7.4,-3.2 8.0,-2.7 8.3,-2.1 C8.7,-1.5 8.9,-0.7 8.9,-0.0 C8.9,0.7 8.7,1.5 8.3,2.1 C8.0,2.7 7.4,3.2 7.0,3.6 C6.6,4.0 6.1,4.2 5.7,4.4 C5.4,4.6 5.2,4.7 5.0,5.0 C4.7,5.2 4.6,5.4 4.4,5.7 C4.2,6.1 4.0,6.6 3.6,7.0 C3.2,7.4 2.7,8.0 2.1,8.3 C1.5,8.7 0.7,8.9 0.0,8.9 C-0.7,8.9 -1.5,8.7 -2.1,8.3 C-2.7,8.0 -3.2,7.4 -3.6,7.0 C-4.0,6.6 -4.2,6.1 -4.4,5.7 C-4.6,5.4 -4.7,5.2 -5.0,5.0 C-5.2,4.7 -5.4,4.6 -5.7,4.4 C-6.1,4.2 -6.6,4.0 -7.0,3.6 C-7.4,3.2 -8.0,2.7 -8.3,2.1 C-8.7,1.5 -8.9,0.7 -8.9,0.0 C-8.9,-0.7 -8.7,-1.5 -8.3,-2.1 C-8.0,-2.7 -7.4,-3.2 -7.0,-3.6 C-6.6,-4.0 -6.1,-4.2 -5.7,-4.4 C-5.4,-4.6 -5.2,-4.7 -5.0,-5.0 C-4.7,-5.2 -4.6,-5.4 -4.4,-5.7 C-4.2,-6.1 -4.0,-6.6 -3.6,-7.0 C-3.2,-7.4 -2.7,-8.0 -2.1,-8.3 C-1.5,-8.7 -0.7,-8.9 0.0,-8.9Z" fill="#f07040" stroke="#2a8a2a" stroke-width="1.35"/><path d="M0.0,-7.6 C0.5,-7.6 1.0,-7.4 1.4,-7.2 C1.8,-6.9 2.2,-6.5 2.5,-6.1 C2.9,-5.8 3.1,-5.3 3.3,-4.9 C3.6,-4.6 3.7,-4.3 4.0,-4.0 C4.3,-3.7 4.6,-3.6 4.9,-3.3 C5.3,-3.1 5.8,-2.9 6.1,-2.5 C6.5,-2.2 6.9,-1.8 7.2,-1.4 C7.4,-1.0 7.6,-0.5 7.6,-0.0 C7.6,0.5 7.4,1.0 7.2,1.4 C6.9,1.8 6.5,2.2 6.1,2.5 C5.8,2.9 5.3,3.1 4.9,3.3 C4.6,3.6 4.3,3.7 4.0,4.0 C3.7,4.3 3.6,4.6 3.3,4.9 C3.1,5.3 2.9,5.8 2.5,6.1 C2.2,6.5 1.8,6.9 1.4,7.2 C1.0,7.4 0.5,7.6 0.0,7.6 C-0.5,7.6 -1.0,7.4 -1.4,7.2 C-1.8,6.9 -2.2,6.5 -2.5,6.1 C-2.9,5.8 -3.1,5.3 -3.3,4.9 C-3.6,4.6 -3.7,4.3 -4.0,4.0 C-4.3,3.7 -4.6,3.6 -4.9,3.3 C-5.3,3.1 -5.8,2.9 -6.1,2.5 C-6.5,2.2 -6.9,1.8 -7.2,1.4 C-7.4,1.0 -7.6,0.5 -7.6,0.0 C-7.6,-0.5 -7.4,-1.0 -7.2,-1.4 C-6.9,-1.8 -6.5,-2.2 -6.1,-2.5 C-5.8,-2.9 -5.3,-3.1 -4.9,-3.3 C-4.6,-3.6 -4.3,-3.7 -4.0,-4.0 C-3.7,-4.3 -3.6,-4.6 -3.3,-4.9 C-3.1,-5.3 -2.9,-5.8 -2.5,-6.1 C-2.2,-6.5 -1.8,-6.9 -1.4,-7.2 C-1.0,-7.4 -0.5,-7.6 0.0,-7.6Z" fill="#8080ff" stroke="#0000ff" stroke-width="0.6"/></g>
<g transform="translate(339.2,130.1) rotate(-45)"><path d="M-0.5,-3.3 C-0.4,-3.5 -0.0,-3.8 0.4,-3.8 C0.8,-3.8 1.6,-3.6 2.1,-3.3 C2.6,-3.0 3.1,-2.3 3.4,-1.9 C3.7,-1.4 3.8,-0.8 3.9,-0.4 C3.9,-0.1 3.7,0.3 3.5,0.5 C3.2,0.7 2.7,0.6 2.3,0.7 C1.9,0.9 1.4,1.0 1.1,1.2 C0.9,1.5 0.9,1.8 0.8,2.1 C0.7,2.5 0.8,3.3 0.6,3.6 C0.5,3.9 0.4,4.0 -0.1,3.9 C-0.5,3.9 -1.4,3.6 -1.9,3.3 C-2.5,3.0 -2.9,2.6 -3.2,2.1 C-3.5,1.7 -3.7,0.9 -3.7,0.5 C-3.7,0.0 -3.5,-0.3 -3.2,-0.6 C-2.9,-0.8 -2.3,-1.0 -1.9,-1.2 C-1.6,-1.4 -1.1,-1.4 -0.9,-1.7 C-0.7,-1.9 -0.7,-2.3 -0.6,-2.6 C-0.6,-2.9 -0.7,-3.1 -0.5,-3.3Z" fill="#0000ff"/></g>
<g transform="translate(311.6,140.1) rotate(60)"><path d="M0.0,-8.9 C0.7,-8.9 1.5,-8.7 2.1,-8.3 C2.7,-8.0 3.2,-7.4 3.6,-7.0 C4.0,-6.6 4.2,-6.1 4.4,-5.7 C4.6,-5.4 4.7,-5.2 5.0,-5.0 C5.2,-4.7 5.4,-4.6 5.7,-4.4 C6.1,-4.2 6.6,-4.0 7.0,-3.6 C7.4,-3.2 8.0,-2.7 8.3,-2.1 C8.7,-1.5 8.9,-0.7 8.9,-0.0 C8.9,0.7 8.7,1.5 8.3,2.1 C8.0,2.7 7.4,3.2 7.0,3.6 C6.6,4.0 6.1,4.2 5.7,4.4 C5.4,4.6 5.2,4.7 5.0,5.0 C4.7,5.2 4.6,5.4 4.4,5.7 C4.2,6.1 4.0,6.6 3.6,7.0 C3.2,7.4 2.7,8.0 2.1,8.3 C1.5,8.7 0.7,8.9 0.0,8.9 C-0.7,8.9 -1.5,8.7 -2.1,8.3 C-2.7,8.0 -3.2,7.4 -3.6,7.0 C-4.0,6.6 -4.2,6.1 -4.4,5.7 C-4.6,5.4 -4.7,5.2 -5.0,5.0 C-5.2,4.7 -5.4,4.6 -5.7,4.4 C-6.1,4.2 -6.6,4.0 -7.0,3.6 C-7.4,3.2 -8.0,2.7 -8.3,2.1 C-8.7,1.5 -8.9,0.7 -8.9,0.0 C-8.9,-0.7 -8.7,-1.5 -8.3,-2.1 C-8.0,-2.7 -7.4,-3.2 -7.0,-3.6 C-6.6,-4.0 -6.1,-4.2 -5.7,-4.4 C-5.4,-4.6 -5.2,-4.7 -5.0,-5.0 C-4.7,-5.2 -4.6,-5.4 -4.4,-5.7 C-4.2,-6.1 -4.0,-6.6 -3.6,-7.0 C-3.2,-7.4 -2.7,-8.0 -2.1,-8.3 C-1.5,-8.7 -0.7,-8.9 0.0,-8.9Z" fill="#f07040" stroke="#2a8a2a" stroke-width="1.35"/><path d="M0.0,-7.6 C0.5,-7.6 1.0,-7.4 1.4,-7.2 C1.8,-6.9 2.2,-6.5 2.5,-6.1 C2.9,-5.8 3.1,-5.3 3.3,-4.9 C3.6,-4.6 3.7,-4.3 4.0,-4.0 C4.3,-3.7 4.6,-3.6 4.9,-3.3 C5.3,-3.1 5.8,-2.9 6.1,-2.5 C6.5,-2.2 6.9,-1.8 7.2,-1.4 C7.4,-1.0 7.6,-0.5 7.6,-0.0 C7.6,0.5 7.4,1.0 7.2,1.4 C6.9,1.8 6.5,2.2 6.1,2.5 C5.8,2.9 5.3,3.1 4.9,3.3 C4.6,3.6 4.3,3.7 4.0,4.0 C3.7,4.3 3.6,4.6 3.3,4.9 C3.1,5.3 2.9,5.8 2.5,6.1 C2.2,6.5 1.8,6.9 1.4,7.2 C1.0,7.4 0.5,7.6 0.0,7.6 C-0.5,7.6 -1.0,7.4 -1.4,7.2 C-1.8,6.9 -2.2,6.5 -2.5,6.1 C-2.9,5.8 -3.1,5.3 -3.3,4.9 C-3.6,4.6 -3.7,4.3 -4.0,4.0 C-4.3,3.7 -4.6,3.6 -4.9,3.3 C-5.3,3.1 -5.8,2.9 -6.1,2.5 C-6.5,2.2 -6.9,1.8 -7.2,1.4 C-7.4,1.0 -7.6,0.5 -7.6,0.0 C-7.6,-0.5 -7.4,-1.0 -7.2,-1.4 C-6.9,-1.8 -6.5,-2.2 -6.1,-2.5 C-5.8,-2.9 -5.3,-3.1 -4.9,-3.3 C-4.6,-3.6 -4.3,-3.7 -4.0,-4.0 C-3.7,-4.3 -3.6,-4.6 -3.3,-4.9 C-3.1,-5.3 -2.9,-5.8 -2.5,-6.1 C-2.2,-6.5 -1.8,-6.9 -1.4,-7.2 C-1.0,-7.4 -0.5,-7.6 0.0,-7.6Z" fill="#ff8080" stroke="#ff0000" stroke-width="0.6"/></g>
<g transform="translate(311.6,140.1) rotate(-45)"><path d="M-0.5,-3.3 C-0.4,-3.5 -0.0,-3.8 0.4,-3.8 C0.8,-3.8 1.6,-3.6 2.1,-3.3 C2.6,-3.0 3.1,-2.3 3.4,-1.9 C3.7,-1.4 3.8,-0.8 3.9,-0.4 C3.9,-0.1 3.7,0.3 3.5,0.5 C3.2,0.7 2.7,0.6 2.3,0.7 C1.9,0.9 1.4,1.0 1.1,1.2 C0.9,1.5 0.9,1.8 0.8,2.1 C0.7,2.5 0.8,3.3 0.6,3.6 C0.5,3.9 0.4,4.0 -0.1,3.9 C-0.5,3.9 -1.4,3.6 -1.9,3.3 C-2.5,3.0 -2.9,2.6 -3.2,2.1 C-3.5,1.7 -3.7,0.9 -3.7,0.5 C-3.7,0.0 -3.5,-0.3 -3.2,-0.6 C-2.9,-0.8 -2.3,-1.0 -1.9,-1.2 C-1.6,-1.4 -1.1,-1.4 -0.9,-1.7 C-0.7,-1.9 -0.7,-2.3 -0.6,-2.6 C-0.6,-2.9 -0.7,-3.1 -0.5,-3.3Z" fill="#ff0000"/></g>
<g transform="translate(326.2,136.7) rotate(55)"><path d="M0.0,-8.9 C0.7,-8.9 1.5,-8.7 2.1,-8.3 C2.7,-8.0 3.2,-7.4 3.6,-7.0 C4.0,-6.6 4.2,-6.1 4.4,-5.7 C4.6,-5.4 4.7,-5.2 5.0,-5.0 C5.2,-4.7 5.4,-4.6 5.7,-4.4 C6.1,-4.2 6.6,-4.0 7.0,-3.6 C7.4,-3.2 8.0,-2.7 8.3,-2.1 C8.7,-1.5 8.9,-0.7 8.9,-0.0 C8.9,0.7 8.7,1.5 8.3,2.1 C8.0,2.7 7.4,3.2 7.0,3.6 C6.6,4.0 6.1,4.2 5.7,4.4 C5.4,4.6 5.2,4.7 5.0,5.0 C4.7,5.2 4.6,5.4 4.4,5.7 C4.2,6.1 4.0,6.6 3.6,7.0 C3.2,7.4 2.7,8.0 2.1,8.3 C1.5,8.7 0.7,8.9 0.0,8.9 C-0.7,8.9 -1.5,8.7 -2.1,8.3 C-2.7,8.0 -3.2,7.4 -3.6,7.0 C-4.0,6.6 -4.2,6.1 -4.4,5.7 C-4.6,5.4 -4.7,5.2 -5.0,5.0 C-5.2,4.7 -5.4,4.6 -5.7,4.4 C-6.1,4.2 -6.6,4.0 -7.0,3.6 C-7.4,3.2 -8.0,2.7 -8.3,2.1 C-8.7,1.5 -8.9,0.7 -8.9,0.0 C-8.9,-0.7 -8.7,-1.5 -8.3,-2.1 C-8.0,-2.7 -7.4,-3.2 -7.0,-3.6 C-6.6,-4.0 -6.1,-4.2 -5.7,-4.4 C-5.4,-4.6 -5.2,-4.7 -5.0,-5.0 C-4.7,-5.2 -4.6,-5.4 -4.4,-5.7 C-4.2,-6.1 -4.0,-6.6 -3.6,-7.0 C-3.2,-7.4 -2.7,-8.0 -2.1,-8.3 C-1.5,-8.7 -0.7,-8.9 0.0,-8.9Z" fill="#f07040" stroke="#2a8a2a" stroke-width="1.35"/><path d="M0.0,-7.6 C0.5,-7.6 1.0,-7.4 1.4,-7.2 C1.8,-6.9 2.2,-6.5 2.5,-6.1 C2.9,-5.8 3.1,-5.3 3.3,-4.9 C3.6,-4.6 3.7,-4.3 4.0,-4.0 C4.3,-3.7 4.6,-3.6 4.9,-3.3 C5.3,-3.1 5.8,-2.9 6.1,-2.5 C6.5,-2.2 6.9,-1.8 7.2,-1.4 C7.4,-1.0 7.6,-0.5 7.6,-0.0 C7.6,0.5 7.4,1.0 7.2,1.4 C6.9,1.8 6.5,2.2 6.1,2.5 C5.8,2.9 5.3,3.1 4.9,3.3 C4.6,3.6 4.3,3.7 4.0,4.0 C3.7,4.3 3.6,4.6 3.3,4.9 C3.1,5.3 2.9,5.8 2.5,6.1 C2.2,6.5 1.8,6.9 1.4,7.2 C1.0,7.4 0.5,7.6 0.0,7.6 C-0.5,7.6 -1.0,7.4 -1.4,7.2 C-1.8,6.9 -2.2,6.5 -2.5,6.1 C-2.9,5.8 -3.1,5.3 -3.3,4.9 C-3.6,4.6 -3.7,4.3 -4.0,4.0 C-4.3,3.7 -4.6,3.6 -4.9,3.3 C-5.3,3.1 -5.8,2.9 -6.1,2.5 C-6.5,2.2 -6.9,1.8 -7.2,1.4 C-7.4,1.0 -7.6,0.5 -7.6,0.0 C-7.6,-0.5 -7.4,-1.0 -7.2,-1.4 C-6.9,-1.8 -6.5,-2.2 -6.1,-2.5 C-5.8,-2.9 -5.3,-3.1 -4.9,-3.3 C-4.6,-3.6 -4.3,-3.7 -4.0,-4.0 C-3.7,-4.3 -3.6,-4.6 -3.3,-4.9 C-3.1,-5.3 -2.9,-5.8 -2.5,-6.1 C-2.2,-6.5 -1.8,-6.9 -1.4,-7.2 C-1.0,-7.4 -0.5,-7.6 0.0,-7.6Z" fill="#ff8080" stroke="#ff0000" stroke-width="0.6"/></g>
<g transform="translate(326.2,136.7) rotate(-30)"><path d="M-0.5,-3.3 C-0.4,-3.5 -0.0,-3.8 0.4,-3.8 C0.8,-3.8 1.6,-3.6 2.1,-3.3 C2.6,-3.0 3.1,-2.3 3.4,-1.9 C3.7,-1.4 3.8,-0.8 3.9,-0.4 C3.9,-0.1 3.7,0.3 3.5,0.5 C3.2,0.7 2.7,0.6 2.3,0.7 C1.9,0.9 1.4,1.0 1.1,1.2 C0.9,1.5 0.9,1.8 0.8,2.1 C0.7,2.5 0.8,3.3 0.6,3.6 C0.5,3.9 0.4,4.0 -0.1,3.9 C-0.5,3.9 -1.4,3.6 -1.9,3.3 C-2.5,3.0 -2.9,2.6 -3.2,2.1 C-3.5,1.7 -3.7,0.9 -3.7,0.5 C-3.7,0.0 -3.5,-0.3 -3.2,-0.6 C-2.9,-0.8 -2.3,-1.0 -1.9,-1.2 C-1.6,-1.4 -1.1,-1.4 -0.9,-1.7 C-0.7,-1.9 -0.7,-2.3 -0.6,-2.6 C-0.6,-2.9 -0.7,-3.1 -0.5,-3.3Z" fill="#ff0000"/></g>
<g transform="translate(351.0,139.6) rotate(-10)"><path d="M0.0,-8.9 C0.7,-8.9 1.5,-8.7 2.1,-8.3 C2.7,-8.0 3.2,-7.4 3.6,-7.0 C4.0,-6.6 4.2,-6.1 4.4,-5.7 C4.6,-5.4 4.7,-5.2 5.0,-5.0 C5.2,-4.7 5.4,-4.6 5.7,-4.4 C6.1,-4.2 6.6,-4.0 7.0,-3.6 C7.4,-3.2 8.0,-2.7 8.3,-2.1 C8.7,-1.5 8.9,-0.7 8.9,-0.0 C8.9,0.7 8.7,1.5 8.3,2.1 C8.0,2.7 7.4,3.2 7.0,3.6 C6.6,4.0 6.1,4.2 5.7,4.4 C5.4,4.6 5.2,4.7 5.0,5.0 C4.7,5.2 4.6,5.4 4.4,5.7 C4.2,6.1 4.0,6.6 3.6,7.0 C3.2,7.4 2.7,8.0 2.1,8.3 C1.5,8.7 0.7,8.9 0.0,8.9 C-0.7,8.9 -1.5,8.7 -2.1,8.3 C-2.7,8.0 -3.2,7.4 -3.6,7.0 C-4.0,6.6 -4.2,6.1 -4.4,5.7 C-4.6,5.4 -4.7,5.2 -5.0,5.0 C-5.2,4.7 -5.4,4.6 -5.7,4.4 C-6.1,4.2 -6.6,4.0 -7.0,3.6 C-7.4,3.2 -8.0,2.7 -8.3,2.1 C-8.7,1.5 -8.9,0.7 -8.9,0.0 C-8.9,-0.7 -8.7,-1.5 -8.3,-2.1 C-8.0,-2.7 -7.4,-3.2 -7.0,-3.6 C-6.6,-4.0 -6.1,-4.2 -5.7,-4.4 C-5.4,-4.6 -5.2,-4.7 -5.0,-5.0 C-4.7,-5.2 -4.6,-5.4 -4.4,-5.7 C-4.2,-6.1 -4.0,-6.6 -3.6,-7.0 C-3.2,-7.4 -2.7,-8.0 -2.1,-8.3 C-1.5,-8.7 -0.7,-8.9 0.0,-8.9Z" fill="#f07040" stroke="#2a8a2a" stroke-width="1.35"/><path d="M0.0,-7.6 C0.5,-7.6 1.0,-7.4 1.4,-7.2 C1.8,-6.9 2.2,-6.5 2.5,-6.1 C2.9,-5.8 3.1,-5.3 3.3,-4.9 C3.6,-4.6 3.7,-4.3 4.0,-4.0 C4.3,-3.7 4.6,-3.6 4.9,-3.3 C5.3,-3.1 5.8,-2.9 6.1,-2.5 C6.5,-2.2 6.9,-1.8 7.2,-1.4 C7.4,-1.0 7.6,-0.5 7.6,-0.0 C7.6,0.5 7.4,1.0 7.2,1.4 C6.9,1.8 6.5,2.2 6.1,2.5 C5.8,2.9 5.3,3.1 4.9,3.3 C4.6,3.6 4.3,3.7 4.0,4.0 C3.7,4.3 3.6,4.6 3.3,4.9 C3.1,5.3 2.9,5.8 2.5,6.1 C2.2,6.5 1.8,6.9 1.4,7.2 C1.0,7.4 0.5,7.6 0.0,7.6 C-0.5,7.6 -1.0,7.4 -1.4,7.2 C-1.8,6.9 -2.2,6.5 -2.5,6.1 C-2.9,5.8 -3.1,5.3 -3.3,4.9 C-3.6,4.6 -3.7,4.3 -4.0,4.0 C-4.3,3.7 -4.6,3.6 -4.9,3.3 C-5.3,3.1 -5.8,2.9 -6.1,2.5 C-6.5,2.2 -6.9,1.8 -7.2,1.4 C-7.4,1.0 -7.6,0.5 -7.6,0.0 C-7.6,-0.5 -7.4,-1.0 -7.2,-1.4 C-6.9,-1.8 -6.5,-2.2 -6.1,-2.5 C-5.8,-2.9 -5.3,-3.1 -4.9,-3.3 C-4.6,-3.6 -4.3,-3.7 -4.0,-4.0 C-3.7,-4.3 -3.6,-4.6 -3.3,-4.9 C-3.1,-5.3 -2.9,-5.8 -2.5,-6.1 C-2.2,-6.5 -1.8,-6.9 -1.4,-7.2 C-1.0,-7.4 -0.5,-7.6 0.0,-7.6Z" fill="#ff8080" stroke="#ff0000" stroke-width="0.6"/></g>
<g transform="translate(351.0,139.6) rotate(0)"><path d="M-0.5,-3.3 C-0.4,-3.5 -0.0,-3.8 0.4,-3.8 C0.8,-3.8 1.6,-3.6 2.1,-3.3 C2.6,-3.0 3.1,-2.3 3.4,-1.9 C3.7,-1.4 3.8,-0.8 3.9,-0.4 C3.9,-0.1 3.7,0.3 3.5,0.5 C3.2,0.7 2.7,0.6 2.3,0.7 C1.9,0.9 1.4,1.0 1.1,1.2 C0.9,1.5 0.9,1.8 0.8,2.1 C0.7,2.5 0.8,3.3 0.6,3.6 C0.5,3.9 0.4,4.0 -0.1,3.9 C-0.5,3.9 -1.4,3.6 -1.9,3.3 C-2.5,3.0 -2.9,2.6 -3.2,2.1 C-3.5,1.7 -3.7,0.9 -3.7,0.5 C-3.7,0.0 -3.5,-0.3 -3.2,-0.6 C-2.9,-0.8 -2.3,-1.0 -1.9,-1.2 C-1.6,-1.4 -1.1,-1.4 -0.9,-1.7 C-0.7,-1.9 -0.7,-2.3 -0.6,-2.6 C-0.6,-2.9 -0.7,-3.1 -0.5,-3.3Z" fill="#ff0000"/></g>
<g transform="translate(300.4,148.0) rotate(65)"><path d="M0.0,-8.9 C0.7,-8.9 1.5,-8.7 2.1,-8.3 C2.7,-8.0 3.2,-7.4 3.6,-7.0 C4.0,-6.6 4.2,-6.1 4.4,-5.7 C4.6,-5.4 4.7,-5.2 5.0,-5.0 C5.2,-4.7 5.4,-4.6 5.7,-4.4 C6.1,-4.2 6.6,-4.0 7.0,-3.6 C7.4,-3.2 8.0,-2.7 8.3,-2.1 C8.7,-1.5 8.9,-0.7 8.9,-0.0 C8.9,0.7 8.7,1.5 8.3,2.1 C8.0,2.7 7.4,3.2 7.0,3.6 C6.6,4.0 6.1,4.2 5.7,4.4 C5.4,4.6 5.2,4.7 5.0,5.0 C4.7,5.2 4.6,5.4 4.4,5.7 C4.2,6.1 4.0,6.6 3.6,7.0 C3.2,7.4 2.7,8.0 2.1,8.3 C1.5,8.7 0.7,8.9 0.0,8.9 C-0.7,8.9 -1.5,8.7 -2.1,8.3 C-2.7,8.0 -3.2,7.4 -3.6,7.0 C-4.0,6.6 -4.2,6.1 -4.4,5.7 C-4.6,5.4 -4.7,5.2 -5.0,5.0 C-5.2,4.7 -5.4,4.6 -5.7,4.4 C-6.1,4.2 -6.6,4.0 -7.0,3.6 C-7.4,3.2 -8.0,2.7 -8.3,2.1 C-8.7,1.5 -8.9,0.7 -8.9,0.0 C-8.9,-0.7 -8.7,-1.5 -8.3,-2.1 C-8.0,-2.7 -7.4,-3.2 -7.0,-3.6 C-6.6,-4.0 -6.1,-4.2 -5.7,-4.4 C-5.4,-4.6 -5.2,-4.7 -5.0,-5.0 C-4.7,-5.2 -4.6,-5.4 -4.4,-5.7 C-4.2,-6.1 -4.0,-6.6 -3.6,-7.0 C-3.2,-7.4 -2.7,-8.0 -2.1,-8.3 C-1.5,-8.7 -0.7,-8.9 0.0,-8.9Z" fill="#f07040" stroke="#2a8a2a" stroke-width="1.35"/><path d="M0.0,-7.6 C0.5,-7.6 1.0,-7.4 1.4,-7.2 C1.8,-6.9 2.2,-6.5 2.5,-6.1 C2.9,-5.8 3.1,-5.3 3.3,-4.9 C3.6,-4.6 3.7,-4.3 4.0,-4.0 C4.3,-3.7 4.6,-3.6 4.9,-3.3 C5.3,-3.1 5.8,-2.9 6.1,-2.5 C6.5,-2.2 6.9,-1.8 7.2,-1.4 C7.4,-1.0 7.6,-0.5 7.6,-0.0 C7.6,0.5 7.4,1.0 7.2,1.4 C6.9,1.8 6.5,2.2 6.1,2.5 C5.8,2.9 5.3,3.1 4.9,3.3 C4.6,3.6 4.3,3.7 4.0,4.0 C3.7,4.3 3.6,4.6 3.3,4.9 C3.1,5.3 2.9,5.8 2.5,6.1 C2.2,6.5 1.8,6.9 1.4,7.2 C1.0,7.4 0.5,7.6 0.0,7.6 C-0.5,7.6 -1.0,7.4 -1.4,7.2 C-1.8,6.9 -2.2,6.5 -2.5,6.1 C-2.9,5.8 -3.1,5.3 -3.3,4.9 C-3.6,4.6 -3.7,4.3 -4.0,4.0 C-4.3,3.7 -4.6,3.6 -4.9,3.3 C-5.3,3.1 -5.8,2.9 -6.1,2.5 C-6.5,2.2 -6.9,1.8 -7.2,1.4 C-7.4,1.0 -7.6,0.5 -7.6,0.0 C-7.6,-0.5 -7.4,-1.0 -7.2,-1.4 C-6.9,-1.8 -6.5,-2.2 -6.1,-2.5 C-5.8,-2.9 -5.3,-3.1 -4.9,-3.3 C-4.6,-3.6 -4.3,-3.7 -4.0,-4.0 C-3.7,-4.3 -3.6,-4.6 -3.3,-4.9 C-3.1,-5.3 -2.9,-5.8 -2.5,-6.1 C-2.2,-6.5 -1.8,-6.9 -1.4,-7.2 C-1.0,-7.4 -0.5,-7.6 0.0,-7.6Z" fill="#8080ff" stroke="#0000ff" stroke-width="0.6"/></g>
<g transform="translate(300.4,148.0) rotate(40)"><path d="M-0.5,-3.3 C-0.4,-3.5 -0.0,-3.8 0.4,-3.8 C0.8,-3.8 1.6,-3.6 2.1,-3.3 C2.6,-3.0 3.1,-2.3 3.4,-1.9 C3.7,-1.4 3.8,-0.8 3.9,-0.4 C3.9,-0.1 3.7,0.3 3.5,0.5 C3.2,0.7 2.7,0.6 2.3,0.7 C1.9,0.9 1.4,1.0 1.1,1.2 C0.9,1.5 0.9,1.8 0.8,2.1 C0.7,2.5 0.8,3.3 0.6,3.6 C0.5,3.9 0.4,4.0 -0.1,3.9 C-0.5,3.9 -1.4,3.6 -1.9,3.3 C-2.5,3.0 -2.9,2.6 -3.2,2.1 C-3.5,1.7 -3.7,0.9 -3.7,0.5 C-3.7,0.0 -3.5,-0.3 -3.2,-0.6 C-2.9,-0.8 -2.3,-1.0 -1.9,-1.2 C-1.6,-1.4 -1.1,-1.4 -0.9,-1.7 C-0.7,-1.9 -0.7,-2.3 -0.6,-2.6 C-0.6,-2.9 -0.7,-3.1 -0.5,-3.3Z" fill="#0000ff"/></g>
<g transform="translate(323.4,149.7) rotate(70)"><path d="M0.0,-8.9 C0.7,-8.9 1.5,-8.7 2.1,-8.3 C2.7,-8.0 3.2,-7.4 3.6,-7.0 C4.0,-6.6 4.2,-6.1 4.4,-5.7 C4.6,-5.4 4.7,-5.2 5.0,-5.0 C5.2,-4.7 5.4,-4.6 5.7,-4.4 C6.1,-4.2 6.6,-4.0 7.0,-3.6 C7.4,-3.2 8.0,-2.7 8.3,-2.1 C8.7,-1.5 8.9,-0.7 8.9,-0.0 C8.9,0.7 8.7,1.5 8.3,2.1 C8.0,2.7 7.4,3.2 7.0,3.6 C6.6,4.0 6.1,4.2 5.7,4.4 C5.4,4.6 5.2,4.7 5.0,5.0 C4.7,5.2 4.6,5.4 4.4,5.7 C4.2,6.1 4.0,6.6 3.6,7.0 C3.2,7.4 2.7,8.0 2.1,8.3 C1.5,8.7 0.7,8.9 0.0,8.9 C-0.7,8.9 -1.5,8.7 -2.1,8.3 C-2.7,8.0 -3.2,7.4 -3.6,7.0 C-4.0,6.6 -4.2,6.1 -4.4,5.7 C-4.6,5.4 -4.7,5.2 -5.0,5.0 C-5.2,4.7 -5.4,4.6 -5.7,4.4 C-6.1,4.2 -6.6,4.0 -7.0,3.6 C-7.4,3.2 -8.0,2.7 -8.3,2.1 C-8.7,1.5 -8.9,0.7 -8.9,0.0 C-8.9,-0.7 -8.7,-1.5 -8.3,-2.1 C-8.0,-2.7 -7.4,-3.2 -7.0,-3.6 C-6.6,-4.0 -6.1,-4.2 -5.7,-4.4 C-5.4,-4.6 -5.2,-4.7 -5.0,-5.0 C-4.7,-5.2 -4.6,-5.4 -4.4,-5.7 C-4.2,-6.1 -4.0,-6.6 -3.6,-7.0 C-3.2,-7.4 -2.7,-8.0 -2.1,-8.3 C-1.5,-8.7 -0.7,-8.9 0.0,-8.9Z" fill="#f07040" stroke="#2a8a2a" stroke-width="1.35"/><path d="M0.0,-7.6 C0.5,-7.6 1.0,-7.4 1.4,-7.2 C1.8,-6.9 2.2,-6.5 2.5,-6.1 C2.9,-5.8 3.1,-5.3 3.3,-4.9 C3.6,-4.6 3.7,-4.3 4.0,-4.0 C4.3,-3.7 4.6,-3.6 4.9,-3.3 C5.3,-3.1 5.8,-2.9 6.1,-2.5 C6.5,-2.2 6.9,-1.8 7.2,-1.4 C7.4,-1.0 7.6,-0.5 7.6,-0.0 C7.6,0.5 7.4,1.0 7.2,1.4 C6.9,1.8 6.5,2.2 6.1,2.5 C5.8,2.9 5.3,3.1 4.9,3.3 C4.6,3.6 4.3,3.7 4.0,4.0 C3.7,4.3 3.6,4.6 3.3,4.9 C3.1,5.3 2.9,5.8 2.5,6.1 C2.2,6.5 1.8,6.9 1.4,7.2 C1.0,7.4 0.5,7.6 0.0,7.6 C-0.5,7.6 -1.0,7.4 -1.4,7.2 C-1.8,6.9 -2.2,6.5 -2.5,6.1 C-2.9,5.8 -3.1,5.3 -3.3,4.9 C-3.6,4.6 -3.7,4.3 -4.0,4.0 C-4.3,3.7 -4.6,3.6 -4.9,3.3 C-5.3,3.1 -5.8,2.9 -6.1,2.5 C-6.5,2.2 -6.9,1.8 -7.2,1.4 C-7.4,1.0 -7.6,0.5 -7.6,0.0 C-7.6,-0.5 -7.4,-1.0 -7.2,-1.4 C-6.9,-1.8 -6.5,-2.2 -6.1,-2.5 C-5.8,-2.9 -5.3,-3.1 -4.9,-3.3 C-4.6,-3.6 -4.3,-3.7 -4.0,-4.0 C-3.7,-4.3 -3.6,-4.6 -3.3,-4.9 C-3.1,-5.3 -2.9,-5.8 -2.5,-6.1 C-2.2,-6.5 -1.8,-6.9 -1.4,-7.2 C-1.0,-7.4 -0.5,-7.6 0.0,-7.6Z" fill="#8080ff" stroke="#0000ff" stroke-width="0.6"/></g>
<g transform="translate(323.4,149.7) rotate(35)"><path d="M-0.5,-3.3 C-0.4,-3.5 -0.0,-3.8 0.4,-3.8 C0.8,-3.8 1.6,-3.6 2.1,-3.3 C2.6,-3.0 3.1,-2.3 3.4,-1.9 C3.7,-1.4 3.8,-0.8 3.9,-0.4 C3.9,-0.1 3.7,0.3 3.5,0.5 C3.2,0.7 2.7,0.6 2.3,0.7 C1.9,0.9 1.4,1.0 1.1,1.2 C0.9,1.5 0.9,1.8 0.8,2.1 C0.7,2.5 0.8,3.3 0.6,3.6 C0.5,3.9 0.4,4.0 -0.1,3.9 C-0.5,3.9 -1.4,3.6 -1.9,3.3 C-2.5,3.0 -2.9,2.6 -3.2,2.1 C-3.5,1.7 -3.7,0.9 -3.7,0.5 C-3.7,0.0 -3.5,-0.3 -3.2,-0.6 C-2.9,-0.8 -2.3,-1.0 -1.9,-1.2 C-1.6,-1.4 -1.1,-1.4 -0.9,-1.7 C-0.7,-1.9 -0.7,-2.3 -0.6,-2.6 C-0.6,-2.9 -0.7,-3.1 -0.5,-3.3Z" fill="#0000ff"/></g>
<g transform="translate(338.0,145.2) rotate(60)"><path d="M0.0,-8.9 C0.7,-8.9 1.5,-8.7 2.1,-8.3 C2.7,-8.0 3.2,-7.4 3.6,-7.0 C4.0,-6.6 4.2,-6.1 4.4,-5.7 C4.6,-5.4 4.7,-5.2 5.0,-5.0 C5.2,-4.7 5.4,-4.6 5.7,-4.4 C6.1,-4.2 6.6,-4.0 7.0,-3.6 C7.4,-3.2 8.0,-2.7 8.3,-2.1 C8.7,-1.5 8.9,-0.7 8.9,-0.0 C8.9,0.7 8.7,1.5 8.3,2.1 C8.0,2.7 7.4,3.2 7.0,3.6 C6.6,4.0 6.1,4.2 5.7,4.4 C5.4,4.6 5.2,4.7 5.0,5.0 C4.7,5.2 4.6,5.4 4.4,5.7 C4.2,6.1 4.0,6.6 3.6,7.0 C3.2,7.4 2.7,8.0 2.1,8.3 C1.5,8.7 0.7,8.9 0.0,8.9 C-0.7,8.9 -1.5,8.7 -2.1,8.3 C-2.7,8.0 -3.2,7.4 -3.6,7.0 C-4.0,6.6 -4.2,6.1 -4.4,5.7 C-4.6,5.4 -4.7,5.2 -5.0,5.0 C-5.2,4.7 -5.4,4.6 -5.7,4.4 C-6.1,4.2 -6.6,4.0 -7.0,3.6 C-7.4,3.2 -8.0,2.7 -8.3,2.1 C-8.7,1.5 -8.9,0.7 -8.9,0.0 C-8.9,-0.7 -8.7,-1.5 -8.3,-2.1 C-8.0,-2.7 -7.4,-3.2 -7.0,-3.6 C-6.6,-4.0 -6.1,-4.2 -5.7,-4.4 C-5.4,-4.6 -5.2,-4.7 -5.0,-5.0 C-4.7,-5.2 -4.6,-5.4 -4.4,-5.7 C-4.2,-6.1 -4.0,-6.6 -3.6,-7.0 C-3.2,-7.4 -2.7,-8.0 -2.1,-8.3 C-1.5,-8.7 -0.7,-8.9 0.0,-8.9Z" fill="#f07040" stroke="#2a8a2a" stroke-width="1.35"/><path d="M0.0,-7.6 C0.5,-7.6 1.0,-7.4 1.4,-7.2 C1.8,-6.9 2.2,-6.5 2.5,-6.1 C2.9,-5.8 3.1,-5.3 3.3,-4.9 C3.6,-4.6 3.7,-4.3 4.0,-4.0 C4.3,-3.7 4.6,-3.6 4.9,-3.3 C5.3,-3.1 5.8,-2.9 6.1,-2.5 C6.5,-2.2 6.9,-1.8 7.2,-1.4 C7.4,-1.0 7.6,-0.5 7.6,-0.0 C7.6,0.5 7.4,1.0 7.2,1.4 C6.9,1.8 6.5,2.2 6.1,2.5 C5.8,2.9 5.3,3.1 4.9,3.3 C4.6,3.6 4.3,3.7 4.0,4.0 C3.7,4.3 3.6,4.6 3.3,4.9 C3.1,5.3 2.9,5.8 2.5,6.1 C2.2,6.5 1.8,6.9 1.4,7.2 C1.0,7.4 0.5,7.6 0.0,7.6 C-0.5,7.6 -1.0,7.4 -1.4,7.2 C-1.8,6.9 -2.2,6.5 -2.5,6.1 C-2.9,5.8 -3.1,5.3 -3.3,4.9 C-3.6,4.6 -3.7,4.3 -4.0,4.0 C-4.3,3.7 -4.6,3.6 -4.9,3.3 C-5.3,3.1 -5.8,2.9 -6.1,2.5 C-6.5,2.2 -6.9,1.8 -7.2,1.4 C-7.4,1.0 -7.6,0.5 -7.6,0.0 C-7.6,-0.5 -7.4,-1.0 -7.2,-1.4 C-6.9,-1.8 -6.5,-2.2 -6.1,-2.5 C-5.8,-2.9 -5.3,-3.1 -4.9,-3.3 C-4.6,-3.6 -4.3,-3.7 -4.0,-4.0 C-3.7,-4.3 -3.6,-4.6 -3.3,-4.9 C-3.1,-5.3 -2.9,-5.8 -2.5,-6.1 C-2.2,-6.5 -1.8,-6.9 -1.4,-7.2 C-1.0,-7.4 -0.5,-7.6 0.0,-7.6Z" fill="#ff8080" stroke="#ff0000" stroke-width="0.6"/></g>
<g transform="translate(338.0,145.2) rotate(30)"><path d="M-0.5,-3.3 C-0.4,-3.5 -0.0,-3.8 0.4,-3.8 C0.8,-3.8 1.6,-3.6 2.1,-3.3 C2.6,-3.0 3.1,-2.3 3.4,-1.9 C3.7,-1.4 3.8,-0.8 3.9,-0.4 C3.9,-0.1 3.7,0.3 3.5,0.5 C3.2,0.7 2.7,0.6 2.3,0.7 C1.9,0.9 1.4,1.0 1.1,1.2 C0.9,1.5 0.9,1.8 0.8,2.1 C0.7,2.5 0.8,3.3 0.6,3.6 C0.5,3.9 0.4,4.0 -0.1,3.9 C-0.5,3.9 -1.4,3.6 -1.9,3.3 C-2.5,3.0 -2.9,2.6 -3.2,2.1 C-3.5,1.7 -3.7,0.9 -3.7,0.5 C-3.7,0.0 -3.5,-0.3 -3.2,-0.6 C-2.9,-0.8 -2.3,-1.0 -1.9,-1.2 C-1.6,-1.4 -1.1,-1.4 -0.9,-1.7 C-0.7,-1.9 -0.7,-2.3 -0.6,-2.6 C-0.6,-2.9 -0.7,-3.1 -0.5,-3.3Z" fill="#ff0000"/></g>
<g transform="translate(349.3,154.2) rotate(55)"><path d="M0.0,-8.9 C0.7,-8.9 1.5,-8.7 2.1,-8.3 C2.7,-8.0 3.2,-7.4 3.6,-7.0 C4.0,-6.6 4.2,-6.1 4.4,-5.7 C4.6,-5.4 4.7,-5.2 5.0,-5.0 C5.2,-4.7 5.4,-4.6 5.7,-4.4 C6.1,-4.2 6.6,-4.0 7.0,-3.6 C7.4,-3.2 8.0,-2.7 8.3,-2.1 C8.7,-1.5 8.9,-0.7 8.9,-0.0 C8.9,0.7 8.7,1.5 8.3,2.1 C8.0,2.7 7.4,3.2 7.0,3.6 C6.6,4.0 6.1,4.2 5.7,4.4 C5.4,4.6 5.2,4.7 5.0,5.0 C4.7,5.2 4.6,5.4 4.4,5.7 C4.2,6.1 4.0,6.6 3.6,7.0 C3.2,7.4 2.7,8.0 2.1,8.3 C1.5,8.7 0.7,8.9 0.0,8.9 C-0.7,8.9 -1.5,8.7 -2.1,8.3 C-2.7,8.0 -3.2,7.4 -3.6,7.0 C-4.0,6.6 -4.2,6.1 -4.4,5.7 C-4.6,5.4 -4.7,5.2 -5.0,5.0 C-5.2,4.7 -5.4,4.6 -5.7,4.4 C-6.1,4.2 -6.6,4.0 -7.0,3.6 C-7.4,3.2 -8.0,2.7 -8.3,2.1 C-8.7,1.5 -8.9,0.7 -8.9,0.0 C-8.9,-0.7 -8.7,-1.5 -8.3,-2.1 C-8.0,-2.7 -7.4,-3.2 -7.0,-3.6 C-6.6,-4.0 -6.1,-4.2 -5.7,-4.4 C-5.4,-4.6 -5.2,-4.7 -5.0,-5.0 C-4.7,-5.2 -4.6,-5.4 -4.4,-5.7 C-4.2,-6.1 -4.0,-6.6 -3.6,-7.0 C-3.2,-7.4 -2.7,-8.0 -2.1,-8.3 C-1.5,-8.7 -0.7,-8.9 0.0,-8.9Z" fill="#f07040" stroke="#2a8a2a" stroke-width="1.35"/><path d="M0.0,-7.6 C0.5,-7.6 1.0,-7.4 1.4,-7.2 C1.8,-6.9 2.2,-6.5 2.5,-6.1 C2.9,-5.8 3.1,-5.3 3.3,-4.9 C3.6,-4.6 3.7,-4.3 4.0,-4.0 C4.3,-3.7 4.6,-3.6 4.9,-3.3 C5.3,-3.1 5.8,-2.9 6.1,-2.5 C6.5,-2.2 6.9,-1.8 7.2,-1.4 C7.4,-1.0 7.6,-0.5 7.6,-0.0 C7.6,0.5 7.4,1.0 7.2,1.4 C6.9,1.8 6.5,2.2 6.1,2.5 C5.8,2.9 5.3,3.1 4.9,3.3 C4.6,3.6 4.3,3.7 4.0,4.0 C3.7,4.3 3.6,4.6 3.3,4.9 C3.1,5.3 2.9,5.8 2.5,6.1 C2.2,6.5 1.8,6.9 1.4,7.2 C1.0,7.4 0.5,7.6 0.0,7.6 C-0.5,7.6 -1.0,7.4 -1.4,7.2 C-1.8,6.9 -2.2,6.5 -2.5,6.1 C-2.9,5.8 -3.1,5.3 -3.3,4.9 C-3.6,4.6 -3.7,4.3 -4.0,4.0 C-4.3,3.7 -4.6,3.6 -4.9,3.3 C-5.3,3.1 -5.8,2.9 -6.1,2.5 C-6.5,2.2 -6.9,1.8 -7.2,1.4 C-7.4,1.0 -7.6,0.5 -7.6,0.0 C-7.6,-0.5 -7.4,-1.0 -7.2,-1.4 C-6.9,-1.8 -6.5,-2.2 -6.1,-2.5 C-5.8,-2.9 -5.3,-3.1 -4.9,-3.3 C-4.6,-3.6 -4.3,-3.7 -4.0,-4.0 C-3.7,-4.3 -3.6,-4.6 -3.3,-4.9 C-3.1,-5.3 -2.9,-5.8 -2.5,-6.1 C-2.2,-6.5 -1.8,-6.9 -1.4,-7.2 C-1.0,-7.4 -0.5,-7.6 0.0,-7.6Z" fill="#ff8080" stroke="#ff0000" stroke-width="0.6"/></g>
<g transform="translate(349.3,154.2) rotate(10)"><path d="M-0.5,-3.3 C-0.4,-3.5 -0.0,-3.8 0.4,-3.8 C0.8,-3.8 1.6,-3.6 2.1,-3.3 C2.6,-3.0 3.1,-2.3 3.4,-1.9 C3.7,-1.4 3.8,-0.8 3.9,-0.4 C3.9,-0.1 3.7,0.3 3.5,0.5 C3.2,0.7 2.7,0.6 2.3,0.7 C1.9,0.9 1.4,1.0 1.1,1.2 C0.9,1.5 0.9,1.8 0.8,2.1 C0.7,2.5 0.8,3.3 0.6,3.6 C0.5,3.9 0.4,4.0 -0.1,3.9 C-0.5,3.9 -1.4,3.6 -1.9,3.3 C-2.5,3.0 -2.9,2.6 -3.2,2.1 C-3.5,1.7 -3.7,0.9 -3.7,0.5 C-3.7,0.0 -3.5,-0.3 -3.2,-0.6 C-2.9,-0.8 -2.3,-1.0 -1.9,-1.2 C-1.6,-1.4 -1.1,-1.4 -0.9,-1.7 C-0.7,-1.9 -0.7,-2.3 -0.6,-2.6 C-0.6,-2.9 -0.7,-3.1 -0.5,-3.3Z" fill="#ff0000"/></g>
<g transform="translate(311.1,158.7) rotate(65)"><path d="M0.0,-8.9 C0.7,-8.9 1.5,-8.7 2.1,-8.3 C2.7,-8.0 3.2,-7.4 3.6,-7.0 C4.0,-6.6 4.2,-6.1 4.4,-5.7 C4.6,-5.4 4.7,-5.2 5.0,-5.0 C5.2,-4.7 5.4,-4.6 5.7,-4.4 C6.1,-4.2 6.6,-4.0 7.0,-3.6 C7.4,-3.2 8.0,-2.7 8.3,-2.1 C8.7,-1.5 8.9,-0.7 8.9,-0.0 C8.9,0.7 8.7,1.5 8.3,2.1 C8.0,2.7 7.4,3.2 7.0,3.6 C6.6,4.0 6.1,4.2 5.7,4.4 C5.4,4.6 5.2,4.7 5.0,5.0 C4.7,5.2 4.6,5.4 4.4,5.7 C4.2,6.1 4.0,6.6 3.6,7.0 C3.2,7.4 2.7,8.0 2.1,8.3 C1.5,8.7 0.7,8.9 0.0,8.9 C-0.7,8.9 -1.5,8.7 -2.1,8.3 C-2.7,8.0 -3.2,7.4 -3.6,7.0 C-4.0,6.6 -4.2,6.1 -4.4,5.7 C-4.6,5.4 -4.7,5.2 -5.0,5.0 C-5.2,4.7 -5.4,4.6 -5.7,4.4 C-6.1,4.2 -6.6,4.0 -7.0,3.6 C-7.4,3.2 -8.0,2.7 -8.3,2.1 C-8.7,1.5 -8.9,0.7 -8.9,0.0 C-8.9,-0.7 -8.7,-1.5 -8.3,-2.1 C-8.0,-2.7 -7.4,-3.2 -7.0,-3.6 C-6.6,-4.0 -6.1,-4.2 -5.7,-4.4 C-5.4,-4.6 -5.2,-4.7 -5.0,-5.0 C-4.7,-5.2 -4.6,-5.4 -4.4,-5.7 C-4.2,-6.1 -4.0,-6.6 -3.6,-7.0 C-3.2,-7.4 -2.7,-8.0 -2.1,-8.3 C-1.5,-8.7 -0.7,-8.9 0.0,-8.9Z" fill="#f07040" stroke="#2a8a2a" stroke-width="1.35"/><path d="M0.0,-7.6 C0.5,-7.6 1.0,-7.4 1.4,-7.2 C1.8,-6.9 2.2,-6.5 2.5,-6.1 C2.9,-5.8 3.1,-5.3 3.3,-4.9 C3.6,-4.6 3.7,-4.3 4.0,-4.0 C4.3,-3.7 4.6,-3.6 4.9,-3.3 C5.3,-3.1 5.8,-2.9 6.1,-2.5 C6.5,-2.2 6.9,-1.8 7.2,-1.4 C7.4,-1.0 7.6,-0.5 7.6,-0.0 C7.6,0.5 7.4,1.0 7.2,1.4 C6.9,1.8 6.5,2.2 6.1,2.5 C5.8,2.9 5.3,3.1 4.9,3.3 C4.6,3.6 4.3,3.7 4.0,4.0 C3.7,4.3 3.6,4.6 3.3,4.9 C3.1,5.3 2.9,5.8 2.5,6.1 C2.2,6.5 1.8,6.9 1.4,7.2 C1.0,7.4 0.5,7.6 0.0,7.6 C-0.5,7.6 -1.0,7.4 -1.4,7.2 C-1.8,6.9 -2.2,6.5 -2.5,6.1 C-2.9,5.8 -3.1,5.3 -3.3,4.9 C-3.6,4.6 -3.7,4.3 -4.0,4.0 C-4.3,3.7 -4.6,3.6 -4.9,3.3 C-5.3,3.1 -5.8,2.9 -6.1,2.5 C-6.5,2.2 -6.9,1.8 -7.2,1.4 C-7.4,1.0 -7.6,0.5 -7.6,0.0 C-7.6,-0.5 -7.4,-1.0 -7.2,-1.4 C-6.9,-1.8 -6.5,-2.2 -6.1,-2.5 C-5.8,-2.9 -5.3,-3.1 -4.9,-3.3 C-4.6,-3.6 -4.3,-3.7 -4.0,-4.0 C-3.7,-4.3 -3.6,-4.6 -3.3,-4.9 C-3.1,-5.3 -2.9,-5.8 -2.5,-6.1 C-2.2,-6.5 -1.8,-6.9 -1.4,-7.2 C-1.0,-7.4 -0.5,-7.6 0.0,-7.6Z" fill="#ff8080" stroke="#ff0000" stroke-width="0.6"/></g>
<g transform="translate(311.1,158.7) rotate(-45)"><path d="M-0.5,-3.3 C-0.4,-3.5 -0.0,-3.8 0.4,-3.8 C0.8,-3.8 1.6,-3.6 2.1,-3.3 C2.6,-3.0 3.1,-2.3 3.4,-1.9 C3.7,-1.4 3.8,-0.8 3.9,-0.4 C3.9,-0.1 3.7,0.3 3.5,0.5 C3.2,0.7 2.7,0.6 2.3,0.7 C1.9,0.9 1.4,1.0 1.1,1.2 C0.9,1.5 0.9,1.8 0.8,2.1 C0.7,2.5 0.8,3.3 0.6,3.6 C0.5,3.9 0.4,4.0 -0.1,3.9 C-0.5,3.9 -1.4,3.6 -1.9,3.3 C-2.5,3.0 -2.9,2.6 -3.2,2.1 C-3.5,1.7 -3.7,0.9 -3.7,0.5 C-3.7,0.0 -3.5,-0.3 -3.2,-0.6 C-2.9,-0.8 -2.3,-1.0 -1.9,-1.2 C-1.6,-1.4 -1.1,-1.4 -0.9,-1.7 C-0.7,-1.9 -0.7,-2.3 -0.6,-2.6 C-0.6,-2.9 -0.7,-3.1 -0.5,-3.3Z" fill="#ff0000"/></g>
<g transform="translate(336.9,159.2) rotate(50)"><path d="M0.0,-8.9 C0.7,-8.9 1.5,-8.7 2.1,-8.3 C2.7,-8.0 3.2,-7.4 3.6,-7.0 C4.0,-6.6 4.2,-6.1 4.4,-5.7 C4.6,-5.4 4.7,-5.2 5.0,-5.0 C5.2,-4.7 5.4,-4.6 5.7,-4.4 C6.1,-4.2 6.6,-4.0 7.0,-3.6 C7.4,-3.2 8.0,-2.7 8.3,-2.1 C8.7,-1.5 8.9,-0.7 8.9,-0.0 C8.9,0.7 8.7,1.5 8.3,2.1 C8.0,2.7 7.4,3.2 7.0,3.6 C6.6,4.0 6.1,4.2 5.7,4.4 C5.4,4.6 5.2,4.7 5.0,5.0 C4.7,5.2 4.6,5.4 4.4,5.7 C4.2,6.1 4.0,6.6 3.6,7.0 C3.2,7.4 2.7,8.0 2.1,8.3 C1.5,8.7 0.7,8.9 0.0,8.9 C-0.7,8.9 -1.5,8.7 -2.1,8.3 C-2.7,8.0 -3.2,7.4 -3.6,7.0 C-4.0,6.6 -4.2,6.1 -4.4,5.7 C-4.6,5.4 -4.7,5.2 -5.0,5.0 C-5.2,4.7 -5.4,4.6 -5.7,4.4 C-6.1,4.2 -6.6,4.0 -7.0,3.6 C-7.4,3.2 -8.0,2.7 -8.3,2.1 C-8.7,1.5 -8.9,0.7 -8.9,0.0 C-8.9,-0.7 -8.7,-1.5 -8.3,-2.1 C-8.0,-2.7 -7.4,-3.2 -7.0,-3.6 C-6.6,-4.0 -6.1,-4.2 -5.7,-4.4 C-5.4,-4.6 -5.2,-4.7 -5.0,-5.0 C-4.7,-5.2 -4.6,-5.4 -4.4,-5.7 C-4.2,-6.1 -4.0,-6.6 -3.6,-7.0 C-3.2,-7.4 -2.7,-8.0 -2.1,-8.3 C-1.5,-8.7 -0.7,-8.9 0.0,-8.9Z" fill="#f07040" stroke="#2a8a2a" stroke-width="1.35"/><path d="M0.0,-7.6 C0.5,-7.6 1.0,-7.4 1.4,-7.2 C1.8,-6.9 2.2,-6.5 2.5,-6.1 C2.9,-5.8 3.1,-5.3 3.3,-4.9 C3.6,-4.6 3.7,-4.3 4.0,-4.0 C4.3,-3.7 4.6,-3.6 4.9,-3.3 C5.3,-3.1 5.8,-2.9 6.1,-2.5 C6.5,-2.2 6.9,-1.8 7.2,-1.4 C7.4,-1.0 7.6,-0.5 7.6,-0.0 C7.6,0.5 7.4,1.0 7.2,1.4 C6.9,1.8 6.5,2.2 6.1,2.5 C5.8,2.9 5.3,3.1 4.9,3.3 C4.6,3.6 4.3,3.7 4.0,4.0 C3.7,4.3 3.6,4.6 3.3,4.9 C3.1,5.3 2.9,5.8 2.5,6.1 C2.2,6.5 1.8,6.9 1.4,7.2 C1.0,7.4 0.5,7.6 0.0,7.6 C-0.5,7.6 -1.0,7.4 -1.4,7.2 C-1.8,6.9 -2.2,6.5 -2.5,6.1 C-2.9,5.8 -3.1,5.3 -3.3,4.9 C-3.6,4.6 -3.7,4.3 -4.0,4.0 C-4.3,3.7 -4.6,3.6 -4.9,3.3 C-5.3,3.1 -5.8,2.9 -6.1,2.5 C-6.5,2.2 -6.9,1.8 -7.2,1.4 C-7.4,1.0 -7.6,0.5 -7.6,0.0 C-7.6,-0.5 -7.4,-1.0 -7.2,-1.4 C-6.9,-1.8 -6.5,-2.2 -6.1,-2.5 C-5.8,-2.9 -5.3,-3.1 -4.9,-3.3 C-4.6,-3.6 -4.3,-3.7 -4.0,-4.0 C-3.7,-4.3 -3.6,-4.6 -3.3,-4.9 C-3.1,-5.3 -2.9,-5.8 -2.5,-6.1 C-2.2,-6.5 -1.8,-6.9 -1.4,-7.2 C-1.0,-7.4 -0.5,-7.6 0.0,-7.6Z" fill="#ff8080" stroke="#ff0000" stroke-width="0.6"/></g>
<g transform="translate(336.9,159.2) rotate(0)"><path d="M-0.5,-3.3 C-0.4,-3.5 -0.0,-3.8 0.4,-3.8 C0.8,-3.8 1.6,-3.6 2.1,-3.3 C2.6,-3.0 3.1,-2.3 3.4,-1.9 C3.7,-1.4 3.8,-0.8 3.9,-0.4 C3.9,-0.1 3.7,0.3 3.5,0.5 C3.2,0.7 2.7,0.6 2.3,0.7 C1.9,0.9 1.4,1.0 1.1,1.2 C0.9,1.5 0.9,1.8 0.8,2.1 C0.7,2.5 0.8,3.3 0.6,3.6 C0.5,3.9 0.4,4.0 -0.1,3.9 C-0.5,3.9 -1.4,3.6 -1.9,3.3 C-2.5,3.0 -2.9,2.6 -3.2,2.1 C-3.5,1.7 -3.7,0.9 -3.7,0.5 C-3.7,0.0 -3.5,-0.3 -3.2,-0.6 C-2.9,-0.8 -2.3,-1.0 -1.9,-1.2 C-1.6,-1.4 -1.1,-1.4 -0.9,-1.7 C-0.7,-1.9 -0.7,-2.3 -0.6,-2.6 C-0.6,-2.9 -0.7,-3.1 -0.5,-3.3Z" fill="#ff0000"/></g>
<g transform="translate(324.0,164.3) rotate(55)"><path d="M0.0,-8.9 C0.7,-8.9 1.5,-8.7 2.1,-8.3 C2.7,-8.0 3.2,-7.4 3.6,-7.0 C4.0,-6.6 4.2,-6.1 4.4,-5.7 C4.6,-5.4 4.7,-5.2 5.0,-5.0 C5.2,-4.7 5.4,-4.6 5.7,-4.4 C6.1,-4.2 6.6,-4.0 7.0,-3.6 C7.4,-3.2 8.0,-2.7 8.3,-2.1 C8.7,-1.5 8.9,-0.7 8.9,-0.0 C8.9,0.7 8.7,1.5 8.3,2.1 C8.0,2.7 7.4,3.2 7.0,3.6 C6.6,4.0 6.1,4.2 5.7,4.4 C5.4,4.6 5.2,4.7 5.0,5.0 C4.7,5.2 4.6,5.4 4.4,5.7 C4.2,6.1 4.0,6.6 3.6,7.0 C3.2,7.4 2.7,8.0 2.1,8.3 C1.5,8.7 0.7,8.9 0.0,8.9 C-0.7,8.9 -1.5,8.7 -2.1,8.3 C-2.7,8.0 -3.2,7.4 -3.6,7.0 C-4.0,6.6 -4.2,6.1 -4.4,5.7 C-4.6,5.4 -4.7,5.2 -5.0,5.0 C-5.2,4.7 -5.4,4.6 -5.7,4.4 C-6.1,4.2 -6.6,4.0 -7.0,3.6 C-7.4,3.2 -8.0,2.7 -8.3,2.1 C-8.7,1.5 -8.9,0.7 -8.9,0.0 C-8.9,-0.7 -8.7,-1.5 -8.3,-2.1 C-8.0,-2.7 -7.4,-3.2 -7.0,-3.6 C-6.6,-4.0 -6.1,-4.2 -5.7,-4.4 C-5.4,-4.6 -5.2,-4.7 -5.0,-5.0 C-4.7,-5.2 -4.6,-5.4 -4.4,-5.7 C-4.2,-6.1 -4.0,-6.6 -3.6,-7.0 C-3.2,-7.4 -2.7,-8.0 -2.1,-8.3 C-1.5,-8.7 -0.7,-8.9 0.0,-8.9Z" fill="#f07040" stroke="#2a8a2a" stroke-width="1.35"/><path d="M0.0,-7.6 C0.5,-7.6 1.0,-7.4 1.4,-7.2 C1.8,-6.9 2.2,-6.5 2.5,-6.1 C2.9,-5.8 3.1,-5.3 3.3,-4.9 C3.6,-4.6 3.7,-4.3 4.0,-4.0 C4.3,-3.7 4.6,-3.6 4.9,-3.3 C5.3,-3.1 5.8,-2.9 6.1,-2.5 C6.5,-2.2 6.9,-1.8 7.2,-1.4 C7.4,-1.0 7.6,-0.5 7.6,-0.0 C7.6,0.5 7.4,1.0 7.2,1.4 C6.9,1.8 6.5,2.2 6.1,2.5 C5.8,2.9 5.3,3.1 4.9,3.3 C4.6,3.6 4.3,3.7 4.0,4.0 C3.7,4.3 3.6,4.6 3.3,4.9 C3.1,5.3 2.9,5.8 2.5,6.1 C2.2,6.5 1.8,6.9 1.4,7.2 C1.0,7.4 0.5,7.6 0.0,7.6 C-0.5,7.6 -1.0,7.4 -1.4,7.2 C-1.8,6.9 -2.2,6.5 -2.5,6.1 C-2.9,5.8 -3.1,5.3 -3.3,4.9 C-3.6,4.6 -3.7,4.3 -4.0,4.0 C-4.3,3.7 -4.6,3.6 -4.9,3.3 C-5.3,3.1 -5.8,2.9 -6.1,2.5 C-6.5,2.2 -6.9,1.8 -7.2,1.4 C-7.4,1.0 -7.6,0.5 -7.6,0.0 C-7.6,-0.5 -7.4,-1.0 -7.2,-1.4 C-6.9,-1.8 -6.5,-2.2 -6.1,-2.5 C-5.8,-2.9 -5.3,-3.1 -4.9,-3.3 C-4.6,-3.6 -4.3,-3.7 -4.0,-4.0 C-3.7,-4.3 -3.6,-4.6 -3.3,-4.9 C-3.1,-5.3 -2.9,-5.8 -2.5,-6.1 C-2.2,-6.5 -1.8,-6.9 -1.4,-7.2 C-1.0,-7.4 -0.5,-7.6 0.0,-7.6Z" fill="#ff8080" stroke="#ff0000" stroke-width="0.6"/></g>
<g transform="translate(324.0,164.3) rotate(-45)"><path d="M-0.5,-3.3 C-0.4,-3.5 -0.0,-3.8 0.4,-3.8 C0.8,-3.8 1.6,-3.6 2.1,-3.3 C2.6,-3.0 3.1,-2.3 3.4,-1.9 C3.7,-1.4 3.8,-0.8 3.9,-0.4 C3.9,-0.1 3.7,0.3 3.5,0.5 C3.2,0.7 2.7,0.6 2.3,0.7 C1.9,0.9 1.4,1.0 1.1,1.2 C0.9,1.5 0.9,1.8 0.8,2.1 C0.7,2.5 0.8,3.3 0.6,3.6 C0.5,3.9 0.4,4.0 -0.1,3.9 C-0.5,3.9 -1.4,3.6 -1.9,3.3 C-2.5,3.0 -2.9,2.6 -3.2,2.1 C-3.5,1.7 -3.7,0.9 -3.7,0.5 C-3.7,0.0 -3.5,-0.3 -3.2,-0.6 C-2.9,-0.8 -2.3,-1.0 -1.9,-1.2 C-1.6,-1.4 -1.1,-1.4 -0.9,-1.7 C-0.7,-1.9 -0.7,-2.3 -0.6,-2.6 C-0.6,-2.9 -0.7,-3.1 -0.5,-3.3Z" fill="#ff0000"/></g>
<circle cx="325.6" cy="136.4" r="35" fill="none" stroke="#111" stroke-width="1.0" stroke-dasharray="3 2"/>
<text x="393.9" y="12.8" font-size="16.0" font-weight="bold" fill="#000" textLength="10.3" lengthAdjust="spacingAndGlyphs">b</text>
<text x="492.3" y="13.7" font-size="12.2" fill="#1c1c1c" stroke="#1c1c1c" stroke-width="0.25" textLength="79.0" lengthAdjust="spacingAndGlyphs">white light source</text>
<text x="439.4" y="43.6" font-size="12.2" fill="#1c1c1c" stroke="#1c1c1c" stroke-width="0.25" textLength="26.7" lengthAdjust="spacingAndGlyphs">probe</text>
<text x="570.6" y="42.7" font-size="12.2" fill="#1c1c1c" stroke="#1c1c1c" stroke-width="0.25" textLength="52.2" lengthAdjust="spacingAndGlyphs">culture fluid</text>
<text x="590.2" y="72.4" font-size="12.2" fill="#2020ff" stroke="#2020ff" stroke-width="0.25" textLength="49.3" lengthAdjust="spacingAndGlyphs">glass plate</text>
<text x="413.9" y="121.3" font-size="12.2" fill="#1c1c1c" stroke="#1c1c1c" stroke-width="0.25" textLength="19.3" lengthAdjust="spacingAndGlyphs">dish</text>
<text x="452.6" y="199.7" font-size="12.2" fill="#1c1c1c" stroke="#1c1c1c" stroke-width="0.25" textLength="29.6" lengthAdjust="spacingAndGlyphs">heater</text>
<text x="570.4" y="199.5" font-size="12.2" fill="#ff1a1a" stroke="#ff1a1a" stroke-width="0.25" textLength="75.3" lengthAdjust="spacingAndGlyphs">cardiac spheroid</text>
<text x="488.9" y="229.2" font-size="12.2" fill="#1c1c1c" stroke="#1c1c1c" stroke-width="0.25" textLength="84.7" lengthAdjust="spacingAndGlyphs">optical microscope</text>
<text x="399.0" y="209.8" font-size="12.2" fill="#2a8a2a" stroke="#2a8a2a" stroke-width="0.25" textLength="29.7" lengthAdjust="spacingAndGlyphs">(input)</text>
<text x="631.2" y="159.9" font-size="12.2" fill="#2a8a2a" stroke="#2a8a2a" stroke-width="0.25" textLength="35.7" lengthAdjust="spacingAndGlyphs">(output)</text>
<text x="468.2" y="81.5" font-size="11.3" fill="#1c1c1c" stroke="#1c1c1c" stroke-width="0.25" textLength="4.6" lengthAdjust="spacingAndGlyphs">k</text>
<text x="472.6" y="84.8" font-size="9.0" fill="#1c1c1c" stroke="#1c1c1c" stroke-width="0.25" textLength="4.9" lengthAdjust="spacingAndGlyphs">z</text>
<text x="409.2" y="147.0" font-size="12.2" fill="#2a8a2a" stroke="#2a8a2a" stroke-width="0.25" textLength="5.4" lengthAdjust="spacingAndGlyphs">z</text>
<text x="414.0" y="149.8" font-size="9.5" fill="#2a8a2a" stroke="#2a8a2a" stroke-width="0.25" textLength="4.6" lengthAdjust="spacingAndGlyphs">1</text>
<text x="644.2" y="107.4" font-size="12.2" fill="#2a8a2a" stroke="#2a8a2a" stroke-width="0.25" textLength="5.0" lengthAdjust="spacingAndGlyphs">z</text>
<text x="649.3" y="110.3" font-size="9.5" fill="#2a8a2a" stroke="#2a8a2a" stroke-width="0.25" textLength="4.5" lengthAdjust="spacingAndGlyphs">2</text>
<rect x="443.2" y="96.8" width="176.6" height="58.7" fill="#ffc0c0"/>
<rect x="443.2" y="155.5" width="49.0" height="19.6" fill="#c8c8c8" stroke="#111" stroke-width="1.5"/>
<rect x="492.2" y="155.5" width="78.2" height="19.6" fill="#fff" stroke="#111" stroke-width="1.5"/>
<rect x="570.4" y="155.5" width="49.4" height="19.6" fill="#c8c8c8" stroke="#111" stroke-width="1.5"/>
<line x1="443.2" y1="76.7" x2="443.2" y2="175.1" stroke="#111" stroke-width="1.5"/>
<line x1="619.8" y1="76.7" x2="619.8" y2="175.1" stroke="#111" stroke-width="1.5"/>
<line x1="472.6" y1="38.1" x2="511.7" y2="38.1" stroke="#111" stroke-width="2.6" stroke-linecap="round"/>
<polyline points="492.1,38 492.1,57.3 501.8,59.2 482.3,63.3 501.8,67.2 482.3,71.4 501.8,75.2 482.3,79.2 501.8,83.1 482.3,87 501.8,90.9 482.3,94.8 492.1,96.6 492.1,116.4 501.5,116.4" fill="none" stroke="#111" stroke-width="1.7" stroke-linejoin="round"/>
<rect x="501.6" y="112.6" width="59.3" height="7.7" fill="#7f7fff" stroke="#111" stroke-width="1.5"/>
<ellipse cx="531.0" cy="137.9" rx="19.2" ry="17.1" fill="#ff4040" stroke="#111" stroke-width="1.4"/>
<path d="M506.9,126.3 Q500.50,137.80 506.9,149.3" fill="none" stroke="#111" stroke-width="1.4" stroke-linecap="round"/>
<path d="M510.7,128.3 Q504.70,138.00 510.7,147.7" fill="none" stroke="#111" stroke-width="1.4" stroke-linecap="round"/>
<path d="M552.3,128.3 Q557.90,138.00 552.3,147.7" fill="none" stroke="#111" stroke-width="1.4" stroke-linecap="round"/>
<path d="M555.9,126.3 Q561.90,137.80 555.9,149.3" fill="none" stroke="#111" stroke-width="1.4" stroke-linecap="round"/>
<line x1="570.9" y1="47.8" x2="541.1" y2="96.8" stroke="#222" stroke-width="0.9"/>
<line x1="590.2" y1="77.2" x2="541.1" y2="116.3" stroke="#222" stroke-width="0.9"/>
<line x1="541.3" y1="145.7" x2="570.7" y2="184.8" stroke="#222" stroke-width="0.9"/>
<line x1="467.3" y1="165.0" x2="467.3" y2="184.3" stroke="#222" stroke-width="0.9"/>
<line x1="531.4" y1="18.5" x2="531.4" y2="207" stroke="#222" stroke-width="0.9" stroke-dasharray="3 2"/>
<polygon points="531.3,215.6 528.9,206.4 533.7,206.4" fill="#111"/>
<line x1="408.8" y1="155.5" x2="440" y2="155.5" stroke="#2a8a2a" stroke-width="1.1"/>
<line x1="413.8" y1="194.5" x2="413.8" y2="163" stroke="#2a8a2a" stroke-width="1.1"/>
<polygon points="413.8,155.8 411.6,164 416.0,164" fill="#2a8a2a"/>
<line x1="409.5" y1="194.5" x2="417.8" y2="194.5" stroke="#2a8a2a" stroke-width="1.1"/>
<line x1="564.5" y1="116.6" x2="653.2" y2="116.6" stroke="#2a8a2a" stroke-width="1.1"/>
<line x1="649.1" y1="145.7" x2="649.1" y2="124" stroke="#2a8a2a" stroke-width="1.1"/>
<polygon points="649.1,116.9 646.9,125 651.3,125" fill="#2a8a2a"/>
<line x1="645.2" y1="145.7" x2="653.1" y2="145.7" stroke="#2a8a2a" stroke-width="1.1"/>
<text x="99.6" y="267.8" font-size="16.0" font-weight="bold" fill="#000" textLength="9.4" lengthAdjust="spacingAndGlyphs">c</text>
<line x1="174.28" y1="273.5" x2="174.28" y2="449.6" stroke="#333" stroke-width="0.9" stroke-dasharray="3 2"/>
<line x1="139.0" y1="414.38" x2="315.4" y2="414.38" stroke="#333" stroke-width="0.9" stroke-dasharray="3 2"/>
<line x1="139.0" y1="449.6" x2="315.4" y2="273.5" stroke="#3030ff" stroke-width="1.2"/>
<rect x="225.5" y="327.5" width="55" height="11" fill="#fff"/>
<text x="227.3" y="335.7" font-size="12.2" fill="#1c1c1c" stroke="#1c1c1c" stroke-width="0.25" textLength="51.8" lengthAdjust="spacingAndGlyphs">compression</text>
<line x1="174.28" y1="332.1" x2="209.5" y2="332.1" stroke="#111" stroke-width="1.1"/>
<polygon points="217.7,332.1 208.8,329.7 208.8,334.5" fill="#111"/>
<text x="131.8" y="463.2" font-size="10.4" font-weight="bold" fill="#111" textLength="14.9" lengthAdjust="spacingAndGlyphs">–10</text>
<line x1="174.28" y1="449.6" x2="174.28" y2="446.0" stroke="#111" stroke-width="1"/>
<line x1="174.28" y1="273.5" x2="174.28" y2="277.1" stroke="#111" stroke-width="1"/>
<text x="172.0" y="463.2" font-size="10.4" font-weight="bold" fill="#111" textLength="5.0" lengthAdjust="spacingAndGlyphs">0</text>
<line x1="209.56" y1="449.6" x2="209.56" y2="446.0" stroke="#111" stroke-width="1"/>
<line x1="209.56" y1="273.5" x2="209.56" y2="277.1" stroke="#111" stroke-width="1"/>
<text x="204.7" y="463.2" font-size="10.4" font-weight="bold" fill="#111" textLength="9.9" lengthAdjust="spacingAndGlyphs">10</text>
<line x1="244.84" y1="449.6" x2="244.84" y2="446.0" stroke="#111" stroke-width="1"/>
<line x1="244.84" y1="273.5" x2="244.84" y2="277.1" stroke="#111" stroke-width="1"/>
<text x="240.1" y="463.2" font-size="10.4" font-weight="bold" fill="#111" textLength="9.9" lengthAdjust="spacingAndGlyphs">20</text>
<line x1="280.12" y1="449.6" x2="280.12" y2="446.0" stroke="#111" stroke-width="1"/>
<line x1="280.12" y1="273.5" x2="280.12" y2="277.1" stroke="#111" stroke-width="1"/>
<text x="275.4" y="463.2" font-size="10.4" font-weight="bold" fill="#111" textLength="9.9" lengthAdjust="spacingAndGlyphs">30</text>
<text x="310.7" y="463.2" font-size="10.4" font-weight="bold" fill="#111" textLength="9.9" lengthAdjust="spacingAndGlyphs">40</text>
<text x="115.3" y="453.2" font-size="10.4" font-weight="bold" fill="#111" textLength="19.9" lengthAdjust="spacingAndGlyphs">–100</text>
<line x1="139.0" y1="414.38" x2="142.6" y2="414.38" stroke="#111" stroke-width="1"/>
<line x1="315.4" y1="414.38" x2="311.79999999999995" y2="414.38" stroke="#111" stroke-width="1"/>
<text x="130.2" y="418.0" font-size="10.4" font-weight="bold" fill="#111" textLength="5.0" lengthAdjust="spacingAndGlyphs">0</text>
<line x1="139.0" y1="379.16" x2="142.6" y2="379.16" stroke="#111" stroke-width="1"/>
<line x1="315.4" y1="379.16" x2="311.79999999999995" y2="379.16" stroke="#111" stroke-width="1"/>
<text x="120.3" y="382.8" font-size="10.4" font-weight="bold" fill="#111" textLength="14.9" lengthAdjust="spacingAndGlyphs">100</text>
<line x1="139.0" y1="343.94" x2="142.6" y2="343.94" stroke="#111" stroke-width="1"/>
<line x1="315.4" y1="343.94" x2="311.79999999999995" y2="343.94" stroke="#111" stroke-width="1"/>
<text x="120.3" y="347.5" font-size="10.4" font-weight="bold" fill="#111" textLength="14.9" lengthAdjust="spacingAndGlyphs">200</text>
<line x1="139.0" y1="308.72" x2="142.6" y2="308.72" stroke="#111" stroke-width="1"/>
<line x1="315.4" y1="308.72" x2="311.79999999999995" y2="308.72" stroke="#111" stroke-width="1"/>
<text x="120.3" y="312.3" font-size="10.4" font-weight="bold" fill="#111" textLength="14.9" lengthAdjust="spacingAndGlyphs">300</text>
<text x="120.3" y="277.1" font-size="10.4" font-weight="bold" fill="#111" textLength="14.9" lengthAdjust="spacingAndGlyphs">400</text>
<rect x="139.0" y="273.5" width="176.40" height="176.10" fill="none" stroke="#111" stroke-width="1.6"/>
<text x="218.1" y="476.0" font-size="11.5" font-weight="bold" fill="#111" textLength="18.5" lengthAdjust="spacingAndGlyphs">t [s]</text>
<g transform="translate(109.80,377.75) rotate(-90)"><text x="0.1" y="0.0" font-size="10.8" font-weight="bold" fill="#111" textLength="5.5" lengthAdjust="spacingAndGlyphs">z</text><text x="5.7" y="3.6" font-size="6.9" font-weight="bold" fill="#111" textLength="2.5" lengthAdjust="spacingAndGlyphs">1</text><text x="10.9" y="0.0" font-size="10.8" font-weight="bold" fill="#111" textLength="22.6" lengthAdjust="spacingAndGlyphs">[μm]</text></g>
<text x="355.0" y="267.8" font-size="16.0" font-weight="bold" fill="#000" textLength="10.5" lengthAdjust="spacingAndGlyphs">d</text>
<line x1="429.38" y1="273.5" x2="429.38" y2="449.6" stroke="#333" stroke-width="0.9" stroke-dasharray="3 2"/>
<line x1="482.30" y1="273.5" x2="482.30" y2="449.6" stroke="#333" stroke-width="0.9" stroke-dasharray="3 2"/>
<line x1="394.1" y1="414.38" x2="570.5" y2="414.38" stroke="#333" stroke-width="0.9" stroke-dasharray="3 2"/>
<polyline points="394.9,415.4 395.7,413.6 396.4,413.0 397.6,412.4 398.6,411.6 399.4,410.6 400.6,411.2 401.5,412.2 402.4,411.8 403.3,412.6 404.2,412.4 405.1,411.6 406.0,412.1 407.0,411.2 407.8,411.5 409.0,412.4 410.2,412.7 411.1,411.8 412.0,412.1 413.5,410.7 415.0,412.7 416.0,411.2 416.8,410.0 417.7,409.0 418.6,408.3 419.4,409.6 420.3,410.9 421.8,412.4 423.3,408.2 424.5,411.2 425.7,409.4 426.9,411.8 427.5,409.2 428.3,410.5 429.4,414.4 431.2,407.7 433.0,414.2 435.0,404.1 436.3,414.4 437.8,399.6 440.2,414.0 441.4,399.6 443.5,410.8 444.8,397.0 446.9,411.3 448.4,393.4 450.2,409.5 451.5,389.3 453.3,406.8 454.9,387.6 456.7,407.7 457.8,384.9 459.4,405.5 460.5,381.7 462.1,406.4 463.2,381.1 464.8,406.6 466.1,380.0 467.9,402.3 468.8,378.4 470.5,403.3 471.6,373.5 473.0,401.2 474.0,374.1 475.7,399.9 476.8,369.8 478.0,398.1 479.5,368.7 480.9,395.0 482.2,367.8 483.1,395.6 484.4,394.4 485.6,395.0 486.9,393.1 488.1,394.0 489.4,391.9 491.2,390.6 492.2,361.2 493.8,384.4 495.0,386.9 496.2,385.6 497.5,386.9 498.8,384.4 500.6,383.1 501.9,381.9 502.9,351.9 503.5,375.6 505.0,376.2 506.2,376.9 507.8,376.5 509.0,349.0 509.8,370.6 512.5,366.5 515.9,360.2 517.1,337.9 517.9,356.7 521.5,349.5 525.4,342.5 526.2,325.8 526.9,339.4 532.1,329.0 532.7,319.2 533.5,326.9 537.0,320.0 540.8,312.7 541.9,306.7 542.9,311.2 546.7,299.8 551.0,291.5 555.0,283.5 558.2,277.5 560.6,273.5" fill="none" stroke="#ff2a2a" stroke-width="1.2" stroke-linejoin="round"/>
<circle cx="431.2" cy="407.7" r="1.85" fill="#fff" stroke="#ff2a2a" stroke-width="1.0"/>
<circle cx="435" cy="404.1" r="1.85" fill="#fff" stroke="#ff2a2a" stroke-width="1.0"/>
<circle cx="437.8" cy="399.6" r="1.85" fill="#fff" stroke="#ff2a2a" stroke-width="1.0"/>
<circle cx="441.4" cy="399.6" r="1.85" fill="#fff" stroke="#ff2a2a" stroke-width="1.0"/>
<circle cx="444.8" cy="397" r="1.85" fill="#fff" stroke="#ff2a2a" stroke-width="1.0"/>
<circle cx="448.4" cy="393.4" r="1.85" fill="#fff" stroke="#ff2a2a" stroke-width="1.0"/>
<circle cx="451.5" cy="389.3" r="1.85" fill="#fff" stroke="#ff2a2a" stroke-width="1.0"/>
<circle cx="454.9" cy="387.6" r="1.85" fill="#fff" stroke="#ff2a2a" stroke-width="1.0"/>
<circle cx="457.8" cy="384.9" r="1.85" fill="#fff" stroke="#ff2a2a" stroke-width="1.0"/>
<circle cx="460.5" cy="381.7" r="1.85" fill="#fff" stroke="#ff2a2a" stroke-width="1.0"/>
<circle cx="463.2" cy="381.1" r="1.85" fill="#fff" stroke="#ff2a2a" stroke-width="1.0"/>
<circle cx="466.1" cy="380" r="1.85" fill="#fff" stroke="#ff2a2a" stroke-width="1.0"/>
<circle cx="468.8" cy="378.4" r="1.85" fill="#fff" stroke="#ff2a2a" stroke-width="1.0"/>
<circle cx="471.6" cy="373.5" r="1.85" fill="#fff" stroke="#ff2a2a" stroke-width="1.0"/>
<circle cx="474" cy="374.1" r="1.85" fill="#fff" stroke="#ff2a2a" stroke-width="1.0"/>
<circle cx="476.8" cy="369.8" r="1.85" fill="#fff" stroke="#ff2a2a" stroke-width="1.0"/>
<circle cx="479.5" cy="368.7" r="1.85" fill="#fff" stroke="#ff2a2a" stroke-width="1.0"/>
<circle cx="482.2" cy="367.8" r="1.85" fill="#fff" stroke="#ff2a2a" stroke-width="1.0"/>
<circle cx="492.25" cy="361.25" r="1.85" fill="#fff" stroke="#ff2a2a" stroke-width="1.0"/>
<circle cx="502.9" cy="351.9" r="1.85" fill="#fff" stroke="#ff2a2a" stroke-width="1.0"/>
<circle cx="509" cy="349" r="1.85" fill="#fff" stroke="#ff2a2a" stroke-width="1.0"/>
<circle cx="517.1" cy="337.9" r="1.85" fill="#fff" stroke="#ff2a2a" stroke-width="1.0"/>
<circle cx="526.25" cy="325.8" r="1.85" fill="#fff" stroke="#ff2a2a" stroke-width="1.0"/>
<circle cx="532.7" cy="319.2" r="1.85" fill="#fff" stroke="#ff2a2a" stroke-width="1.0"/>
<circle cx="541.9" cy="306.7" r="1.85" fill="#fff" stroke="#ff2a2a" stroke-width="1.0"/>
<circle cx="429.4" cy="414.4" r="1.85" fill="#fff" stroke="#2a2aff" stroke-width="1.0"/>
<circle cx="433" cy="414.2" r="1.85" fill="#fff" stroke="#2a2aff" stroke-width="1.0"/>
<circle cx="436.3" cy="414.4" r="1.85" fill="#fff" stroke="#2a2aff" stroke-width="1.0"/>
<circle cx="440.2" cy="414" r="1.85" fill="#fff" stroke="#2a2aff" stroke-width="1.0"/>
<circle cx="443.5" cy="410.8" r="1.85" fill="#fff" stroke="#2a2aff" stroke-width="1.0"/>
<circle cx="446.9" cy="411.3" r="1.85" fill="#fff" stroke="#2a2aff" stroke-width="1.0"/>
<circle cx="450.2" cy="409.5" r="1.85" fill="#fff" stroke="#2a2aff" stroke-width="1.0"/>
<circle cx="453.3" cy="406.8" r="1.85" fill="#fff" stroke="#2a2aff" stroke-width="1.0"/>
<circle cx="456.7" cy="407.7" r="1.85" fill="#fff" stroke="#2a2aff" stroke-width="1.0"/>
<circle cx="459.4" cy="405.5" r="1.85" fill="#fff" stroke="#2a2aff" stroke-width="1.0"/>
<circle cx="462.1" cy="406.4" r="1.85" fill="#fff" stroke="#2a2aff" stroke-width="1.0"/>
<circle cx="464.8" cy="406.6" r="1.85" fill="#fff" stroke="#2a2aff" stroke-width="1.0"/>
<circle cx="467.9" cy="402.3" r="1.85" fill="#fff" stroke="#2a2aff" stroke-width="1.0"/>
<circle cx="470.5" cy="403.3" r="1.85" fill="#fff" stroke="#2a2aff" stroke-width="1.0"/>
<circle cx="473" cy="401.2" r="1.85" fill="#fff" stroke="#2a2aff" stroke-width="1.0"/>
<circle cx="475.7" cy="399.9" r="1.85" fill="#fff" stroke="#2a2aff" stroke-width="1.0"/>
<circle cx="478" cy="398.1" r="1.85" fill="#fff" stroke="#2a2aff" stroke-width="1.0"/>
<circle cx="480.9" cy="395" r="1.85" fill="#fff" stroke="#2a2aff" stroke-width="1.0"/>
<circle cx="491.25" cy="390.6" r="1.85" fill="#fff" stroke="#2a2aff" stroke-width="1.0"/>
<circle cx="501.9" cy="381.9" r="1.85" fill="#fff" stroke="#2a2aff" stroke-width="1.0"/>
<circle cx="507.75" cy="376.5" r="1.85" fill="#fff" stroke="#2a2aff" stroke-width="1.0"/>
<circle cx="515.9" cy="360.25" r="1.85" fill="#fff" stroke="#2a2aff" stroke-width="1.0"/>
<circle cx="525.4" cy="342.5" r="1.85" fill="#fff" stroke="#2a2aff" stroke-width="1.0"/>
<circle cx="532.1" cy="329" r="1.85" fill="#fff" stroke="#2a2aff" stroke-width="1.0"/>
<circle cx="540.8" cy="312.7" r="1.85" fill="#fff" stroke="#2a2aff" stroke-width="1.0"/>
<rect x="413.5" y="317" width="32" height="11" fill="#fff"/>
<rect x="465" y="317" width="34.5" height="11" fill="#fff"/>
<text x="414.4" y="325.7" font-size="12.2" fill="#1c1c1c" stroke="#1c1c1c" stroke-width="0.25" textLength="29.9" lengthAdjust="spacingAndGlyphs">contact</text>
<text x="465.7" y="325.7" font-size="12.2" fill="#1c1c1c" stroke="#1c1c1c" stroke-width="0.25" textLength="33.2" lengthAdjust="spacingAndGlyphs">collapse</text>
<text x="433.5" y="355.8" font-size="12.0" fill="#ff1a1a" stroke="#ff1a1a" stroke-width="0.25" textLength="44.8" lengthAdjust="spacingAndGlyphs">contraction</text>
<text x="436.3" y="433.4" font-size="12.2" fill="#2020ff" stroke="#2020ff" stroke-width="0.25" textLength="39.5" lengthAdjust="spacingAndGlyphs">relaxation</text>
<line x1="429.38" y1="331" x2="429.38" y2="394" stroke="#111" stroke-width="1.1"/>
<polygon points="429.38,400.8 427.08,392.5 431.68,392.5" fill="#111"/>
<line x1="482.30" y1="331" x2="482.30" y2="355" stroke="#111" stroke-width="1.1"/>
<polygon points="482.30,361.5 480.00,353.2 484.60,353.2" fill="#111"/>
<text x="386.9" y="463.2" font-size="10.4" font-weight="bold" fill="#111" textLength="14.9" lengthAdjust="spacingAndGlyphs">–10</text>
<line x1="429.38" y1="449.6" x2="429.38" y2="446.0" stroke="#111" stroke-width="1"/>
<line x1="429.38" y1="273.5" x2="429.38" y2="277.1" stroke="#111" stroke-width="1"/>
<text x="427.1" y="463.2" font-size="10.4" font-weight="bold" fill="#111" textLength="5.0" lengthAdjust="spacingAndGlyphs">0</text>
<line x1="464.66" y1="449.6" x2="464.66" y2="446.0" stroke="#111" stroke-width="1"/>
<line x1="464.66" y1="273.5" x2="464.66" y2="277.1" stroke="#111" stroke-width="1"/>
<text x="459.8" y="463.2" font-size="10.4" font-weight="bold" fill="#111" textLength="9.9" lengthAdjust="spacingAndGlyphs">10</text>
<line x1="499.94" y1="449.6" x2="499.94" y2="446.0" stroke="#111" stroke-width="1"/>
<line x1="499.94" y1="273.5" x2="499.94" y2="277.1" stroke="#111" stroke-width="1"/>
<text x="495.2" y="463.2" font-size="10.4" font-weight="bold" fill="#111" textLength="9.9" lengthAdjust="spacingAndGlyphs">20</text>
<line x1="535.22" y1="449.6" x2="535.22" y2="446.0" stroke="#111" stroke-width="1"/>
<line x1="535.22" y1="273.5" x2="535.22" y2="277.1" stroke="#111" stroke-width="1"/>
<text x="530.5" y="463.2" font-size="10.4" font-weight="bold" fill="#111" textLength="9.9" lengthAdjust="spacingAndGlyphs">30</text>
<text x="565.8" y="463.2" font-size="10.4" font-weight="bold" fill="#111" textLength="9.9" lengthAdjust="spacingAndGlyphs">40</text>
<text x="375.4" y="453.2" font-size="10.4" font-weight="bold" fill="#111" textLength="14.9" lengthAdjust="spacingAndGlyphs">–50</text>
<line x1="394.1" y1="414.38" x2="397.70000000000005" y2="414.38" stroke="#111" stroke-width="1"/>
<line x1="570.5" y1="414.38" x2="566.9" y2="414.38" stroke="#111" stroke-width="1"/>
<text x="385.3" y="418.0" font-size="10.4" font-weight="bold" fill="#111" textLength="5.0" lengthAdjust="spacingAndGlyphs">0</text>
<line x1="394.1" y1="379.16" x2="397.70000000000005" y2="379.16" stroke="#111" stroke-width="1"/>
<line x1="570.5" y1="379.16" x2="566.9" y2="379.16" stroke="#111" stroke-width="1"/>
<text x="380.3" y="382.8" font-size="10.4" font-weight="bold" fill="#111" textLength="9.9" lengthAdjust="spacingAndGlyphs">50</text>
<line x1="394.1" y1="343.94" x2="397.70000000000005" y2="343.94" stroke="#111" stroke-width="1"/>
<line x1="570.5" y1="343.94" x2="566.9" y2="343.94" stroke="#111" stroke-width="1"/>
<text x="375.4" y="347.5" font-size="10.4" font-weight="bold" fill="#111" textLength="14.9" lengthAdjust="spacingAndGlyphs">100</text>
<line x1="394.1" y1="308.72" x2="397.70000000000005" y2="308.72" stroke="#111" stroke-width="1"/>
<line x1="570.5" y1="308.72" x2="566.9" y2="308.72" stroke="#111" stroke-width="1"/>
<text x="375.4" y="312.3" font-size="10.4" font-weight="bold" fill="#111" textLength="14.9" lengthAdjust="spacingAndGlyphs">150</text>
<text x="375.4" y="277.1" font-size="10.4" font-weight="bold" fill="#111" textLength="14.9" lengthAdjust="spacingAndGlyphs">200</text>
<rect x="394.1" y="273.5" width="176.40" height="176.10" fill="none" stroke="#111" stroke-width="1.6"/>
<text x="473.2" y="476.0" font-size="11.5" font-weight="bold" fill="#111" textLength="18.5" lengthAdjust="spacingAndGlyphs">t [s]</text>
<g transform="translate(364.90,377.75) rotate(-90)"><text x="0.1" y="0.0" font-size="10.8" font-weight="bold" fill="#111" textLength="5.5" lengthAdjust="spacingAndGlyphs">z</text><text x="5.1" y="4.3" font-size="6.9" font-weight="bold" fill="#111" textLength="3.6" lengthAdjust="spacingAndGlyphs">2</text><text x="10.9" y="0.0" font-size="10.8" font-weight="bold" fill="#111" textLength="22.6" lengthAdjust="spacingAndGlyphs">[μm]</text></g>
</svg>
</body></html>
